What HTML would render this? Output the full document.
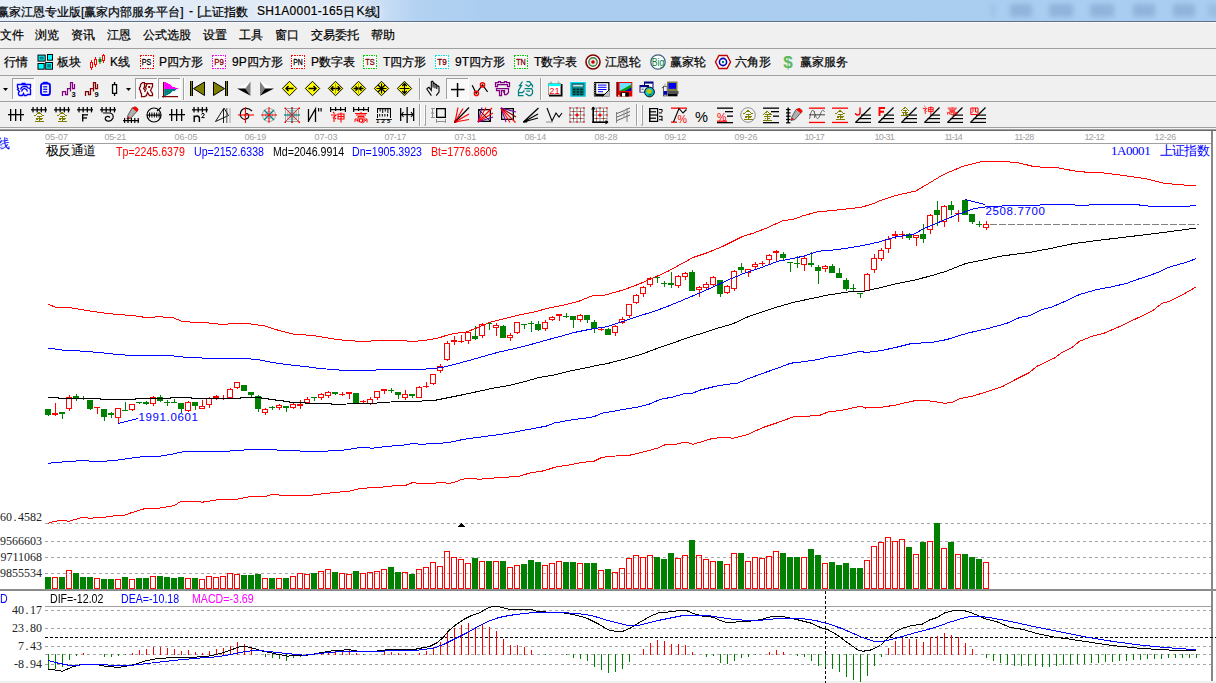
<!DOCTYPE html>
<html lang="zh"><head><meta charset="utf-8"><title>赢家江恩专业版</title>
<style>
html,body{margin:0;padding:0}
body{width:1216px;height:683px;overflow:hidden;background:#f0f0f0;font-family:"Liberation Sans",sans-serif;position:relative;color:#000}
#title{position:absolute;left:0;top:0;width:1216px;height:21px;background:linear-gradient(to right,#e6eef8 0,#dde8f6 350px,#c8ddf4 385px,#b4d2f2 415px,#abcef0 480px,#a9cdf0 100%);overflow:hidden}
#title .cap{position:absolute;top:4px;-webkit-text-stroke:.22px #000;font-size:12px;line-height:15px;white-space:pre;color:#000;text-shadow:0 0 6px #fff,0 0 6px #fff}
#title .blob{position:absolute;top:4px;height:13px;background:#8aaed6;filter:blur(2.6px);opacity:.8;border-radius:3px}
#tline{position:absolute;left:0;top:21px;width:1216px;height:1px;background:#5f6f86}
.bar{position:absolute;left:0;width:1216px;background:#f0f0f0;border-bottom:1px solid #a0a0a0;box-shadow:0 1px 0 #fff}
#menu{top:22px;height:25px;border-top:1px solid #fafafa}
#tb1{top:49px;height:26px}
#tb2{top:76px;height:25px}
#tb3{top:102px;height:25px;border-bottom:none;box-shadow:none}
#edge{position:absolute;left:0;top:127px;width:1216px;height:4px;background:linear-gradient(#a0a0a0 0,#a0a0a0 25%,#f4f4f4 25%,#f4f4f4 50%,#a0a0a0 50%,#a0a0a0 75%,#696969 75%)}
.mi{position:absolute;top:6px;font-size:12px;line-height:14px;white-space:nowrap}
.tl{position:absolute;top:6px;font-size:12px;line-height:14px;white-space:nowrap}
.ic{position:absolute}
#chart,#labels{position:absolute;left:0;top:0}
.t{position:absolute;white-space:nowrap;line-height:14px;font-size:12px}
.date{font-size:9px;color:#a0a0a0;line-height:10px}
.cn{font-family:"Liberation Serif","Liberation Sans",serif}
.ar{font-size:12px;transform:scaleX(.885);transform-origin:0 0}
.num{font-family:"Liberation Sans",sans-serif;font-size:11.5px;letter-spacing:.62px}
.mono{font-family:"Liberation Serif",serif;font-size:12px;color:#222}
.dot{display:inline-block;width:6px;text-align:center;font-weight:normal}
.blue{color:#0000ff} .red{color:#ff0000}
</style></head><body>
<div id="title"><span class="cap" style="left:189px">-</span><span class="cap" style="left:197.2px">[</span><span class="cap" style="left:256.9px;letter-spacing:.34px">SH1A0001-165</span><span class="cap" style="left:356.4px">K</span><span class="cap" style="left:376.4px">]</span>
<i class="blob" style="left:1010px;width:22px"></i><i class="blob" style="left:1049px;width:24px"></i><i class="blob" style="left:1090px;width:24px"></i><i class="blob" style="left:1133px;width:22px"></i><i class="blob" style="left:1173px;width:22px"></i><i class="blob" style="left:991px;width:4px;opacity:.4"></i><i class="blob" style="left:1208px;width:12px;opacity:.5"></i></div>
<div id="tline"></div>
<div class="bar" id="menu"></div>
<div class="bar" id="tb1"><svg class="ic" width="1216" height="26" style="left:0;top:0"><g transform="translate(37,5)"><rect x="0.5" y="0.6" width="8.2" height="7" fill="#000"/><rect x="1.5" y="1.6" width="6.2" height="5" fill="#0ff"/><rect x="2.5" y="2.6" width="4.2" height="3" fill="#008080"/><rect x="10" y="0" width="6" height="6.7" fill="#000"/><rect x="11" y="1" width="4" height="4.7" fill="#0ff"/><rect x="0.5" y="9" width="7.2" height="6.7" fill="#000"/><rect x="1.5" y="10" width="5.2" height="4.7" fill="#0ff"/><rect x="8.2" y="8" width="7.8" height="7.7" fill="#000"/><rect x="9.2" y="9" width="5.8" height="5.7" fill="#0ff"/><rect x="10.2" y="10" width="3.8" height="3.7" fill="#008080"/></g><g transform="translate(89,5)"><rect x="2" y="6" width="1" height="10" fill="#f00"/><rect x="1.5" y="8.5" width="2" height="5" fill="#fff" stroke="#f00" stroke-width="1"/><rect x="6" y="3" width="1" height="10" fill="#f00"/><rect x="5.5" y="5.5" width="2" height="5" fill="#fff" stroke="#f00" stroke-width="1"/><rect x="10.5" y="3" width="1" height="7" fill="#008000"/><rect x="10.0" y="5.5" width="2" height="2" fill="#008000" stroke="#008000" stroke-width="1"/><rect x="14" y="0" width="1" height="9" fill="#f00"/><rect x="13.5" y="1.5" width="2" height="5" fill="#fff" stroke="#f00" stroke-width="1"/></g><g transform="translate(139.5,6)"><rect x="0.5" y="0.5" width="13" height="12.5" fill="#fff" stroke="#f00" stroke-width="1" stroke-dasharray="1.5 1" shape-rendering="crispEdges"/><text x="7" y="10.2" font-size="8.5" fill="#000" font-family="Liberation Sans, sans-serif" text-anchor="middle" textLength="9.5" lengthAdjust="spacingAndGlyphs" stroke="#000" stroke-width="0.3">PS</text></g><g transform="translate(212,6)"><rect x="0.5" y="0.5" width="13" height="12.5" fill="#fff" stroke="#f0f" stroke-width="1" stroke-dasharray="1.5 1" shape-rendering="crispEdges"/><text x="7" y="10.2" font-size="8.5" fill="#800000" font-family="Liberation Sans, sans-serif" text-anchor="middle" textLength="9.5" lengthAdjust="spacingAndGlyphs" stroke="#800000" stroke-width="0.3">P9</text></g><g transform="translate(291,6)"><rect x="0.5" y="0.5" width="13" height="12.5" fill="#fff" stroke="#f00" stroke-width="1" stroke-dasharray="1.5 1" shape-rendering="crispEdges"/><text x="7" y="10.2" font-size="8.5" fill="#000" font-family="Liberation Sans, sans-serif" text-anchor="middle" textLength="9.5" lengthAdjust="spacingAndGlyphs" stroke="#000" stroke-width="0.3">PN</text></g><g transform="translate(363,6)"><rect x="0.5" y="0.5" width="13" height="12.5" fill="#fff" stroke="#00d000" stroke-width="1" stroke-dasharray="1.5 1" shape-rendering="crispEdges"/><text x="7" y="10.2" font-size="8.5" fill="#800000" font-family="Liberation Sans, sans-serif" text-anchor="middle" textLength="9.5" lengthAdjust="spacingAndGlyphs" stroke="#800000" stroke-width="0.3">TS</text></g><g transform="translate(435,6)"><rect x="0.5" y="0.5" width="13" height="12.5" fill="#fff" stroke="#00e8e8" stroke-width="1" stroke-dasharray="1.5 1" shape-rendering="crispEdges"/><text x="7" y="10.2" font-size="8.5" fill="#800000" font-family="Liberation Sans, sans-serif" text-anchor="middle" textLength="9.5" lengthAdjust="spacingAndGlyphs" stroke="#800000" stroke-width="0.3">T9</text></g><g transform="translate(514,6)"><rect x="0.5" y="0.5" width="13" height="12.5" fill="#fff" stroke="#00d000" stroke-width="1" stroke-dasharray="1.5 1" shape-rendering="crispEdges"/><text x="7" y="10.2" font-size="8.5" fill="#800000" font-family="Liberation Sans, sans-serif" text-anchor="middle" textLength="9.5" lengthAdjust="spacingAndGlyphs" stroke="#800000" stroke-width="0.3">TN</text></g><g transform="translate(585,5)"><circle cx="8" cy="8" r="7" fill="#fff" stroke="#800000" stroke-width="1.6"/><circle cx="8" cy="8" r="4.2" fill="#e8e8e8" stroke="#408040" stroke-width="1.4"/><circle cx="8" cy="8" r="1.8" fill="#d00000"/></g><g transform="translate(650,5)"><circle cx="8" cy="8" r="7.2" fill="#fff" stroke="#406080" stroke-width="1.3"/><text x="8" y="11.5" font-size="10" fill="#008040" font-family="Liberation Sans, sans-serif" text-anchor="middle" textLength="12.5" lengthAdjust="spacingAndGlyphs">Big</text></g><g transform="translate(715,5)"><path d="M4 1.5 L12 1.5 L15.5 8 L12 14.5 L4 14.5 L0.5 8 Z" fill="#fff" stroke="#c00000" stroke-width="1.4"/><circle cx="8" cy="8" r="3.6" fill="#fff" stroke="#0000c0" stroke-width="1.6"/><circle cx="8" cy="8" r="1.2" fill="#008080"/></g><g transform="translate(781,4)"><text x="7" y="15" font-size="17" fill="#5cb85c" font-family="Liberation Sans, sans-serif" text-anchor="middle" font-weight="bold">$</text></g></svg></div>
<div class="bar" id="tb2"><svg class="ic" width="1216" height="26" style="left:0;top:0"><path d="M3 12 h5 l-2.5 3 Z" fill="#000"/><rect x="12" y="2" width="23" height="22" fill="#f9f9f9"/><rect x="12" y="2" width="23" height="1" fill="#a0a0a0"/><rect x="12" y="2" width="1" height="22" fill="#a0a0a0"/><rect x="34" y="2" width="1" height="22" fill="#fff"/><rect x="12" y="23" width="23" height="1" fill="#fff"/><g transform="translate(16,5)"><path d="M5.5 2.5 H9.5 M1.5 3.5 H14.5 V6.5 L13.5 7.5 L14.5 8.5 V13.5 H11.5 L10.5 14.5 H8.5 L7.5 12.5 L6.5 14.5 H3.5 L2.5 13.5 V11.5 L3.5 10.5 L1.5 8.5 L2.5 7.5 L1.5 6.5 Z M4.5 8.5 L5.5 6.5 L7.5 5.5 H10.5 L12.5 7.5 M5.5 10.5 L6.5 8.5 L8.5 7.5 L10.5 8.5 L11.5 10.5" stroke="#00f" fill="none" stroke-width="1.35" /></g><g transform="translate(39,5)"><rect x="2" y="2.5" width="9" height="11.5" rx="2.2" fill="none" stroke="#00f" stroke-width="1.8"/><rect x="4.2" y="0.8" width="4.6" height="2" fill="#00f"/><rect x="4.2" y="5.2" width="4" height="1.2" fill="#00f"/><rect x="4.2" y="7.7" width="4" height="1.2" fill="#00f"/><rect x="4.2" y="10.2" width="4" height="1.2" fill="#00f"/></g><g transform="translate(62,5)"><path d="M0.5 15 V10.5 H3.5 V13.5 H5.5 V7.5 H8.5 V10.5 M8.5 10 V1.5 H10.5 V7.5 H12.5 V3" stroke="#800080" fill="none" stroke-width="1.25" /><text x="9.6" y="16.2" font-size="7.5" fill="#000" font-family="Liberation Sans, sans-serif" font-weight="bold">3</text></g><g transform="translate(85,5)"><path d="M0.5 15 V10.5 H3.5 V13.5 H5.5 V7.5 H8.5 V10.5 M8.5 10 V1.5 H10.5 V7.5 H12.5 V3" stroke="#800000" fill="none" stroke-width="1.25" /><text x="9.6" y="16.2" font-size="7.5" fill="#000" font-family="Liberation Sans, sans-serif" font-weight="bold">9</text></g><g transform="translate(108,5)"><rect x="5.9" y="1" width="1.3" height="14" fill="#000"/><rect x="4.55" y="3.65" width="4.0" height="8.7" fill="#fff" stroke="#000" stroke-width="1.3"/></g><path d="M126 12 h5 l-2.5 3 Z" fill="#000"/><rect x="135" y="2" width="23" height="22" fill="#f9f9f9"/><rect x="135" y="2" width="23" height="1" fill="#a0a0a0"/><rect x="135" y="2" width="1" height="22" fill="#a0a0a0"/><rect x="157" y="2" width="1" height="22" fill="#fff"/><rect x="135" y="23" width="23" height="1" fill="#fff"/><rect x="158" y="2" width="23" height="22" fill="#f9f9f9"/><rect x="158" y="2" width="23" height="1" fill="#a0a0a0"/><rect x="158" y="2" width="1" height="22" fill="#a0a0a0"/><rect x="180" y="2" width="1" height="22" fill="#fff"/><rect x="158" y="23" width="23" height="1" fill="#fff"/><g transform="translate(139,5)"><path d="M3.5 1.5 H5.5 V2.5 H13.5 V5.5 L12.5 7.5 L11.5 9.5 L13.5 12.5 V14.5 H10.5 L8.5 11.5 L7.5 14.5 L5.5 15.5 H2.5 V12.5 L1.5 11.5 V9.5 L0.5 8.5 V6.5 L1.5 5.5 V3.5 Z M5.5 3 V6 L4.5 7.5 L6.5 9.5 L5.5 11 M8 3 L6.5 6.5 L7.5 8.5" stroke="#800000" fill="none" stroke-width="1.25" /><rect x="9.2" y="5" width="2" height="2" fill="#800000"/></g><g transform="translate(162,5)"><rect x="1" y="1" width="1.2" height="15.5" fill="#800000"/><rect x="0" y="15" width="16" height="1.2" fill="#800000"/><rect x="2.2" y="1" width="2" height="1.05" fill="#f0f"/><rect x="2.2" y="2" width="4" height="1.05" fill="#f0f"/><rect x="2.2" y="3" width="6" height="1.05" fill="#f0f"/><rect x="2.2" y="4" width="7" height="1.05" fill="#f0f"/><rect x="2.2" y="5" width="8" height="1.05" fill="#f0f"/><rect x="2.2" y="6" width="11" height="1.05" fill="#f0f"/><rect x="2.2" y="7" width="14" height="1.05" fill="#f0f"/><rect x="2.2" y="8" width="12" height="1.05" fill="#008080"/><rect x="2.2" y="9" width="11" height="1.05" fill="#008080"/><rect x="2.2" y="10" width="8" height="1.05" fill="#008080"/><rect x="2.2" y="11" width="7" height="1.05" fill="#008080"/><rect x="2.2" y="12" width="6" height="1.05" fill="#008080"/><rect x="2.2" y="13" width="4" height="1.05" fill="#008080"/><rect x="2.2" y="14" width="2" height="1.05" fill="#008080"/></g><rect x="183" y="2" width="1" height="22" fill="#a0a0a0"/><rect x="184" y="2" width="1" height="22" fill="#fff"/><g transform="translate(190,5)"><rect x="0" y="0" width="1" height="15" fill="#000"/><rect x="1" y="0" width="1" height="15" fill="#808000"/><rect x="2" y="0" width="1" height="15" fill="#000"/><path d="M14.5 1 V14.5 L3.5 7.6 Z" fill="#808000" stroke="#000" stroke-width="1"/></g><g transform="translate(213,5)"><rect x="12" y="0" width="1" height="15" fill="#000"/><rect x="13" y="0" width="1" height="15" fill="#808000"/><rect x="14" y="0" width="1" height="15" fill="#000"/><path d="M0.5 1 V14.5 L11.5 7.6 Z" fill="#808000" stroke="#000" stroke-width="1"/></g><g transform="translate(236,5)"><path d="M1 7.6 L14.5 0.6 L9.3 7.6 Z" fill="#fff"/><path d="M14.5 0.6 L14.5 14.8 L9.3 7.6 Z" fill="#808080"/><path d="M1 7.6 L14.5 14.8 L9.3 7.6 Z" fill="#000"/></g><g transform="translate(259,5)"><path d="M15 7.4 L1 0.6 L6.2 7.4 Z" fill="#fff"/><path d="M1 0.6 L1 14.8 L6.2 7.4 Z" fill="#808080"/><path d="M15 7.4 L1 14.8 L6.2 7.4 Z" fill="#000"/></g><g transform="translate(282,5)"><path d="M7.5 0.3 L14.7 7.5 L7.5 14.7 L0.3 7.5 Z" fill="#ff0" stroke="#000" stroke-width="1"/><path d="M4 7.5 H11.5 M6.5 5 L4 7.5 L6.5 10" stroke="#000" fill="none" stroke-width="1.4" /></g><g transform="translate(305,5)"><path d="M7.5 0.3 L14.7 7.5 L7.5 14.7 L0.3 7.5 Z" fill="#ff0" stroke="#000" stroke-width="1"/><path d="M3.5 7.5 H11 M8.5 5 L11 7.5 L8.5 10" stroke="#000" fill="none" stroke-width="1.4" /></g><g transform="translate(328,5)"><path d="M7.5 0.3 L14.7 7.5 L7.5 14.7 L0.3 7.5 Z" fill="#ff0" stroke="#000" stroke-width="1"/><path d="M3 7.5 H12 M5.3 5.3 L3 7.5 L5.3 9.7 M9.7 5.3 L12 7.5 L9.7 9.7" stroke="#000" fill="none" stroke-width="1.3" /><line x1="7.5" y1="2.5" x2="7.5" y2="12.5" stroke="#808000" stroke-width="0.7"/></g><g transform="translate(351,5)"><path d="M7.5 0.3 L14.7 7.5 L7.5 14.7 L0.3 7.5 Z" fill="#ff0" stroke="#000" stroke-width="1"/><path d="M2.5 7.5 H12.5 M4.5 5.2 L6.8 7.5 L4.5 9.8 M10.5 5.2 L8.2 7.5 L10.5 9.8" stroke="#000" fill="none" stroke-width="1.3" /><line x1="7.5" y1="2.5" x2="7.5" y2="12.5" stroke="#808000" stroke-width="0.7"/></g><g transform="translate(374,5)"><path d="M7.5 0.3 L14.7 7.5 L7.5 14.7 L0.3 7.5 Z" fill="#ff0" stroke="#000" stroke-width="1"/><path d="M2.5 7.5 H12.5 M7.5 2.5 V12.5 M4 4 L11 11 M11 4 L4 11" stroke="#000" fill="none" stroke-width="1.2" /></g><g transform="translate(397,5)"><path d="M7.5 0.3 L14.7 7.5 L7.5 14.7 L0.3 7.5 Z" fill="#ff0" stroke="#000" stroke-width="1"/><path d="M7.5 2.5 V12.5 M5.2 5 L7.5 2.5 L9.8 5 M5.2 10 L7.5 12.5 L9.8 10 M2.5 7.5 H12.5" stroke="#000" fill="none" stroke-width="1.2" /></g><rect x="419" y="2" width="1" height="22" fill="#a0a0a0"/><rect x="420" y="2" width="1" height="22" fill="#fff"/><g transform="translate(426,5)"><path d="M0.6 7.8 L3 6.3 L5.3 9.4 V0.8 L6.2 0.2 L7.1 0.8 V6.6 M7.1 2.2 L8.2 2 L9 3 V7.2 M9 3.5 L10 3.3 L10.8 4.3 V8 M10.8 5 L12 4.8 L13 5.8 V11 L10.2 14.6 M0.6 7.8 L5.4 14.6" stroke="#000" fill="none" stroke-width="1.1" /></g><rect x="446" y="2" width="23" height="22" fill="#f9f9f9"/><rect x="446" y="2" width="23" height="1" fill="#a0a0a0"/><rect x="446" y="2" width="1" height="22" fill="#a0a0a0"/><rect x="468" y="2" width="1" height="22" fill="#fff"/><rect x="446" y="23" width="23" height="1" fill="#fff"/><g transform="translate(449,5)"><rect x="7.8" y="2" width="1.5" height="14" fill="#000"/><rect x="2" y="7.8" width="13.5" height="1.5" fill="#000"/></g><g transform="translate(472,5)"><path d="M0.2 4.2 L4.2 12.3 L10.5 4 L15.6 10.8" stroke="#000" fill="none" stroke-width="1.2" /><circle cx="4.4" cy="12.4" r="2.1" fill="none" stroke="#f00" stroke-width="1.4"/><circle cx="10.5" cy="3.9" r="2.1" fill="none" stroke="#f00" stroke-width="1.4"/></g><g transform="translate(495,5)"><path d="M0.5 1.5 H3.5 V0.5 H5.5 V1.5 H9.5 V0.5 H11.5 V1.5 H14.5 V5.5 H12.5 V3.5 H2.5 V5.5 H0.5 Z M1.5 7.5 H13.5 V11.5 L11.5 13.5 H9.5 V9.5 H6.5 V14.5 H4.5 V9.5 H1.5 Z M8 11.2 H9.2" stroke="#800080" fill="none" stroke-width="1.25" /></g><g transform="translate(518,5)"><path d="M4.5 0.5 L1.5 4.5 H3.5 L0.5 9.5 V14.5 H5.5 M0.5 11.5 H4.5 L6.5 9.5 M8.5 0.5 H11.5 L14.5 4.5 V6.5 M7.5 3.5 L10.5 5.5 L13.5 3 M6.5 7.5 H13.5 L14.5 9.5 V12.5 L12.5 14.5 H10.5 L7.5 12.5 M8.5 10 H12" stroke="#008080" fill="none" stroke-width="1.25" /></g><rect x="540" y="2" width="1" height="22" fill="#a0a0a0"/><rect x="541" y="2" width="1" height="22" fill="#fff"/><g transform="translate(547,5)"><rect x="2" y="3" width="13.5" height="12.5" fill="#000"/><rect x="1" y="2" width="13" height="12" fill="#fff"/><rect x="1.4" y="2.4" width="12.2" height="11.2" fill="none" stroke="#808080" stroke-width="0.8"/><rect x="1.5" y="2.5" width="12" height="2.6" fill="#0ff"/><path d="M3 2.5 L4 0.5 L5 2.5 Z M10.5 2.5 L11.5 0.5 L12.5 2.5 Z" fill="#fff" stroke="#808080" stroke-width="0.6"/><text x="7.5" y="13" font-size="8.8" fill="#f00" font-family="Liberation Sans, sans-serif" text-anchor="middle" textLength="10.5" lengthAdjust="spacingAndGlyphs">21</text></g><g transform="translate(570,5)"><rect x="0.5" y="1" width="15" height="14.5" fill="#008080"/><rect x="1.0" y="1.5" width="14" height="13.5" fill="none" stroke="#00e0ff" stroke-width="1"/><rect x="2.5" y="3" width="11" height="3.2" fill="#b0f0ff"/><rect x="2.8" y="3.3" width="10.4" height="2.6" fill="none" stroke="#003838" stroke-width="0.6"/><rect x="3.0" y="7.7" width="2.5" height="1.6" fill="#002828"/><rect x="6.6" y="7.7" width="2.5" height="1.6" fill="#002828"/><rect x="10.2" y="7.7" width="2.5" height="1.6" fill="#002828"/><rect x="3.0" y="10.2" width="2.5" height="1.6" fill="#002828"/><rect x="6.6" y="10.2" width="2.5" height="1.6" fill="#002828"/><rect x="10.2" y="10.2" width="2.5" height="1.6" fill="#002828"/><rect x="3.0" y="12.7" width="2.5" height="1.6" fill="#002828"/><rect x="6.6" y="12.7" width="2.5" height="1.6" fill="#002828"/><rect x="10.2" y="12.7" width="2.5" height="1.6" fill="#002828"/></g><g transform="translate(593,5)"><rect x="1" y="1" width="15.5" height="14.5" fill="#000"/><rect x="3.2" y="2.2" width="12" height="10.6" fill="#fff"/><rect x="5" y="3.6" width="8.5" height="1" fill="#00f"/><rect x="5" y="5.800000000000001" width="8.5" height="1" fill="#00f"/><rect x="5" y="8.0" width="8.5" height="1" fill="#00f"/><rect x="5" y="10.200000000000001" width="5.0" height="1" fill="#00f"/><rect x="0.3" y="2.0" width="2.2" height="1" fill="#a0a0a0"/><rect x="0.3" y="4.3" width="2.2" height="1" fill="#a0a0a0"/><rect x="0.3" y="6.6" width="2.2" height="1" fill="#a0a0a0"/><rect x="0.3" y="8.899999999999999" width="2.2" height="1" fill="#a0a0a0"/><rect x="0.3" y="11.2" width="2.2" height="1" fill="#a0a0a0"/><rect x="0.3" y="13.5" width="2.2" height="1" fill="#a0a0a0"/><path d="M9.5 15.5 L16.5 8.5 V15.5 Z" fill="#c0c0c0"/><path d="M9.5 15.5 L16.5 8.5" stroke="#000" stroke-width="1"/></g><g transform="translate(616,5)"><rect x="0.5" y="1" width="15.8" height="14.5" fill="#f00000"/><rect x="0.5" y="1" width="1.6" height="14.5" fill="#800000"/><rect x="3.5" y="2" width="11.8" height="8" fill="#70e0ff"/><path d="M3.5 10 L15.3 3.5 V10 Z" fill="#00a000"/><path d="M9 10 L15.3 6.5 V10 Z" fill="#0000c0"/><rect x="4.5" y="11.3" width="8.5" height="4.2" fill="#000"/><rect x="6" y="12" width="3.2" height="3.5" fill="#fff"/><rect x="2.2" y="14" width="1.2" height="1.2" fill="#fff"/></g><g transform="translate(639,5)"><rect x="5" y="0.5" width="9.5" height="7" fill="#000080"/><rect x="6" y="2.6" width="7.5" height="4.2" fill="#fff"/><rect x="0.5" y="4" width="9.5" height="7.5" fill="#000080"/><rect x="1.5" y="6.2" width="7.5" height="4.6" fill="#fff"/><rect x="2.5" y="7.5" width="2.2" height="1.6" fill="#808080"/><rect x="6" y="7.5" width="1.5" height="1.2" fill="#808080"/><circle cx="10.5" cy="11" r="4.9" fill="#00b0d0" stroke="#000" stroke-width="0.9"/><path d="M7.2 9.6 L10.2 7.6 L13.2 9.8 L11.6 13 L8.8 12.6 Z" fill="#c8c800"/><path d="M9.5 14.5 L11.2 12.2 L12.6 14.2 Z" fill="#008000"/><path d="M6.5 12 L8 11 L8.5 13.5 Z" fill="#00ffff"/></g><g transform="translate(662,5)"><rect x="5" y="0.5" width="10.5" height="9.5" fill="#808040"/><rect x="6.5" y="2" width="7.5" height="5.8" fill="#0000f0"/><rect x="4" y="10" width="12.5" height="3" fill="#505050"/><rect x="6" y="13" width="9.5" height="2.3" fill="#000"/><rect x="1" y="5" width="4.6" height="10.3" fill="#f0f0f0"/><rect x="1.4" y="5.4" width="3.8" height="9.5" fill="none" stroke="#404040" stroke-width="0.8"/><rect x="1.6" y="10" width="3.4" height="3.8" fill="#0000c0"/><rect x="2" y="2.8" width="2.2" height="2.4" fill="#c0c0c0"/><rect x="0.2" y="6" width="1.2" height="1.2" fill="#404040"/></g></svg></div>
<div class="bar" id="tb3"><svg class="ic" width="1216" height="26" style="left:0;top:0"><g transform="translate(8,5)"><rect x="2" y="2" width="1.3" height="12" fill="#000"/><rect x="7" y="2" width="1.3" height="12" fill="#000"/><rect x="12" y="2" width="1.3" height="12" fill="#000"/><rect x="0" y="7" width="16" height="1.3" fill="#000"/></g><g transform="translate(31,5)"><rect x="0" y="2.2" width="16" height="1.25" fill="#000"/><rect x="1.4" y="0" width="1.25" height="5.4" fill="#000"/><rect x="5.550000000000001" y="0" width="1.25" height="5.4" fill="#000"/><rect x="9.700000000000001" y="0" width="1.25" height="5.4" fill="#000"/><rect x="13.850000000000001" y="0" width="1.25" height="5.4" fill="#000"/><path d="M8.0 5.5 L3.5 9.0 M8.0 5.5 L12.5 9.0 M5.5 9.0 H10.5 M4.5 11.0 H11.5 M8.0 9.0 V14.0 M5.8 12.0 L6.5 13.5 M10.2 12.0 L9.5 13.5 M3.5 14.5 H12.5" stroke="#808000" fill="none" stroke-width="1" shape-rendering="crispEdges"/></g><g transform="translate(54,5)"><rect x="0" y="2.2" width="16" height="1.25" fill="#000"/><rect x="1.4" y="0" width="1.25" height="5.4" fill="#000"/><rect x="5.550000000000001" y="0" width="1.25" height="5.4" fill="#000"/><rect x="9.700000000000001" y="0" width="1.25" height="5.4" fill="#000"/><rect x="13.850000000000001" y="0" width="1.25" height="5.4" fill="#000"/><path d="M8.0 5.5 L3.5 9.0 M8.0 5.5 L12.5 9.0 M5.5 9.0 H10.5 M4.5 11.0 H11.5 M8.0 9.0 V14.0 M5.8 12.0 L6.5 13.5 M10.2 12.0 L9.5 13.5 M3.5 14.5 H12.5" stroke="#808000" fill="none" stroke-width="1" shape-rendering="crispEdges"/></g><g transform="translate(77,5)"><rect x="0" y="2.2" width="16" height="1.25" fill="#000"/><rect x="1.4" y="0" width="1.25" height="5.4" fill="#000"/><rect x="5.550000000000001" y="0" width="1.25" height="5.4" fill="#000"/><rect x="9.700000000000001" y="0" width="1.25" height="5.4" fill="#000"/><rect x="13.850000000000001" y="0" width="1.25" height="5.4" fill="#000"/><rect x="5" y="7.2" width="1.4" height="7.3" fill="#000"/><rect x="5" y="7.2" width="6" height="1.3" fill="#000"/><rect x="5" y="10.3" width="5" height="1.3" fill="#000"/></g><g transform="translate(100,5)"><rect x="0" y="2.2" width="16" height="1.25" fill="#000"/><rect x="1.4" y="0" width="1.25" height="5.4" fill="#000"/><rect x="5.550000000000001" y="0" width="1.25" height="5.4" fill="#000"/><rect x="9.700000000000001" y="0" width="1.25" height="5.4" fill="#000"/><rect x="13.850000000000001" y="0" width="1.25" height="5.4" fill="#000"/><path d="M3 6 H10 Q14 7 13 11 Q11 15 7 14 Q4 12 6 10 Q8 8.5 10 10.5" stroke="#000" fill="none" stroke-width="1.2" /></g><g transform="translate(123,5)"><path d="M9 1 L13 0 L15 3 L8 11 L4 12 L5 8 Z" fill="#b0b0b0" stroke="#404040" stroke-width="0.8"/><path d="M9 1 L12 -0.5 L15.5 2 L14 5 Z" fill="#f00"/><path d="M4 12 L5 9 L7 11 Z" fill="#f00"/><rect x="0" y="13" width="16" height="1.2" fill="#000"/><rect x="1.0" y="11" width="1.2" height="5" fill="#000"/><rect x="4.4" y="11" width="1.2" height="5" fill="#000"/><rect x="7.8" y="11" width="1.2" height="5" fill="#000"/><rect x="11.2" y="11" width="1.2" height="5" fill="#000"/><rect x="14.6" y="11" width="1.2" height="5" fill="#000"/></g><g transform="translate(146,5)"><circle cx="8" cy="8" r="7" fill="none" stroke="#000" stroke-width="1.2"/><rect x="1" y="7.5" width="14" height="1.2" fill="#000"/><rect x="3.0" y="5.5" width="1" height="5" fill="#000"/><rect x="5.4" y="5.5" width="1" height="5" fill="#000"/><rect x="7.8" y="5.5" width="1" height="5" fill="#000"/><rect x="10.2" y="5.5" width="1" height="5" fill="#000"/><rect x="12.6" y="5.5" width="1" height="5" fill="#000"/><line x1="11" y1="4" x2="15" y2="0.5" stroke="#000" stroke-width="1.1"/></g><g transform="translate(169,5)"><rect x="2" y="2" width="1.3" height="12" fill="#000"/><rect x="7" y="2" width="1.3" height="12" fill="#000"/><rect x="12" y="2" width="1.3" height="12" fill="#000"/><rect x="0" y="7" width="16" height="1.3" fill="#000"/></g><g transform="translate(192,5)"><rect x="0" y="2.2" width="16" height="1.25" fill="#000"/><rect x="1.4" y="0" width="1.25" height="5.4" fill="#000"/><rect x="5.550000000000001" y="0" width="1.25" height="5.4" fill="#000"/><rect x="9.700000000000001" y="0" width="1.25" height="5.4" fill="#000"/><rect x="13.850000000000001" y="0" width="1.25" height="5.4" fill="#000"/><path d="M2.2 15 V8.6 M2.2 10.8 Q2.6 9 5 9 Q7.4 9 7.4 11.2 V15" stroke="#000" fill="none" stroke-width="1.4" /><path d="M9.6 7.6 Q9.8 6.4 11 6.4 Q12.4 6.5 12.2 7.8 Q12 8.8 9.6 10.6 H12.6" stroke="#000" fill="none" stroke-width="1" /></g><g transform="translate(215,5)"><path d="M0.5 14.5 L9 1 L13.5 8.5 Z" stroke="#000" fill="none" stroke-width="0.9" /><line x1="8.5" y1="2" x2="8.5" y2="16" stroke="#000" stroke-width="0.9"/><line x1="11.8" y1="1" x2="11.8" y2="16" stroke="#404040" stroke-width="0.9"/><line x1="15" y1="1" x2="15" y2="16" stroke="#a0a0a0" stroke-width="0.9"/></g><g transform="translate(238,5)"><path d="M14 4 Q10 0 5 2 Q1 5 3 10 Q6 14 10 11 Q12 8 9 6.5 Q6 7 7.5 9.5" stroke="#000" fill="none" stroke-width="1.2" /><line x1="0" y1="8" x2="16" y2="8" stroke="#f00" stroke-width="1.1"/><line x1="7.5" y1="0" x2="7.5" y2="16" stroke="#f00" stroke-width="1.1"/></g><g transform="translate(261,5)"><circle cx="8" cy="8" r="6.5" fill="none" stroke="#909090" stroke-width="0.8"/><circle cx="8" cy="8" r="3.5" fill="none" stroke="#909090" stroke-width="0.8"/><line x1="0" y1="8" x2="16" y2="8" stroke="#f00" stroke-width="1"/><line x1="8" y1="0" x2="8" y2="16" stroke="#f00" stroke-width="1"/><line x1="3" y1="3" x2="13" y2="13" stroke="#008080" stroke-width="1.2"/><line x1="13" y1="3" x2="3" y2="13" stroke="#008080" stroke-width="1.2"/><rect x="7" y="7" width="2" height="2" fill="#f00"/></g><g transform="translate(284,5)"><rect x="1.4" y="1.4" width="13.2" height="13.2" fill="none" stroke="#909090" stroke-width="0.8"/><rect x="3.9" y="3.9" width="8.2" height="8.2" fill="none" stroke="#909090" stroke-width="0.8"/><rect x="5.9" y="5.9" width="4.2" height="4.2" fill="none" stroke="#c06060" stroke-width="0.8"/><line x1="0" y1="8" x2="16" y2="8" stroke="#008080" stroke-width="1.2"/><line x1="8" y1="0" x2="8" y2="16" stroke="#008080" stroke-width="1.2"/><line x1="1" y1="1" x2="15" y2="15" stroke="#f00" stroke-width="0.8"/><line x1="15" y1="1" x2="1" y2="15" stroke="#f00" stroke-width="0.8"/><rect x="0.5" y="0.5" width="1.5" height="1.5" fill="#f00"/><rect x="14.5" y="0.5" width="1.5" height="1.5" fill="#f00"/><rect x="0.5" y="14.5" width="1.5" height="1.5" fill="#f00"/><rect x="14.5" y="14.5" width="1.5" height="1.5" fill="#f00"/><rect x="7.5" y="0.5" width="1.5" height="1.5" fill="#f00"/><rect x="7.5" y="14.5" width="1.5" height="1.5" fill="#f00"/></g><g transform="translate(307,5)"><path d="M1.5 15 V2 M1.5 14 L8.5 2 V15" stroke="#000" fill="none" stroke-width="1.3" /><rect x="11" y="1" width="1.2" height="3.5" fill="#000"/><rect x="13.5" y="1" width="1.2" height="3.5" fill="#000"/></g><g transform="translate(330,5)"><rect x="0" y="2" width="16" height="1.2" fill="#000"/><rect x="0" y="0" width="1.2" height="5" fill="#000"/><rect x="14.8" y="0" width="1.2" height="5" fill="#000"/><rect x="5" y="0" width="1.2" height="4" fill="#000"/><rect x="10" y="0" width="1.2" height="4" fill="#000"/><path d="M3 5 L4.5 6.5 M1 8 H6 L3 11 M4 9.5 V15 M5 11 L6 12 M8 7 H14 V12 H8 Z M8 9.5 H14 M11 5.5 V15.5" stroke="#f00" fill="none" stroke-width="1.1" /></g><g transform="translate(353,5)"><rect x="0" y="2" width="16" height="1.2" fill="#000"/><rect x="0" y="0" width="1.2" height="5" fill="#000"/><rect x="14.8" y="0" width="1.2" height="5" fill="#000"/><rect x="5" y="0" width="1.2" height="4" fill="#000"/><rect x="10" y="0" width="1.2" height="4" fill="#000"/><path d="M8 5 V6 M2 6.5 H14 M3 8 H13 M5 9.5 H11 V11 H5 Z M2 12 V15 M2 12 H5 V15 M3.5 13.5 H5 M6.5 12 H9.5 V15 H6.5 Z M8 15 L9.5 16 M11 12 H14 V15.5 M11 12 V15 L10.5 16 M12.5 13 V14" stroke="#f00" fill="none" stroke-width="1" /></g><g transform="translate(376,5)"><rect x="1" y="1" width="14" height="1.2" fill="#000"/><rect x="1.0" y="1" width="1" height="5" fill="#000"/><rect x="3.6" y="1" width="1" height="3.5" fill="#000"/><rect x="6.2" y="1" width="1" height="5" fill="#000"/><rect x="8.8" y="1" width="1" height="3.5" fill="#000"/><rect x="11.4" y="1" width="1" height="5" fill="#000"/><rect x="14.0" y="1" width="1" height="3.5" fill="#000"/><rect x="1" y="7" width="1" height="4" fill="#000"/><rect x="14" y="1" width="1" height="10" fill="#000"/><rect x="3.2" y="7" width="1" height="2.5" fill="#000"/><rect x="5.800000000000001" y="7" width="1" height="2.5" fill="#000"/><rect x="8.4" y="7" width="1" height="2.5" fill="#000"/><rect x="11.0" y="7" width="1" height="2.5" fill="#000"/><text x="0" y="16" font-size="6" fill="#000" font-family="Liberation Sans, sans-serif" font-weight="bold">1</text><text x="5.5" y="16" font-size="6" fill="#000" font-family="Liberation Sans, sans-serif" font-weight="bold">2</text><text x="11" y="16" font-size="6" fill="#000" font-family="Liberation Sans, sans-serif" font-weight="bold">5</text><rect x="0" y="12" width="16" height="0.8" fill="#000"/></g><g transform="translate(399,5)"><rect x="1" y="1" width="1.3" height="13" fill="#000"/><rect x="14" y="1" width="1.3" height="13" fill="#000"/><rect x="7.5" y="0" width="1.3" height="16" fill="#000"/><rect x="1" y="7" width="14" height="1.2" fill="#000"/><path d="M4.5 5 L2.5 7.6 L4.5 10 M12 5 L14 7.6 L12 10" stroke="#000" fill="none" stroke-width="1.1" /></g><rect x="419" y="2" width="1" height="22" fill="#a0a0a0"/><rect x="420" y="2" width="1" height="22" fill="#fff"/><rect x="424" y="3" width="1" height="20" fill="#fff"/><rect x="425" y="3" width="1" height="20" fill="#a0a0a0"/><rect x="424" y="22.5" width="2" height="1" fill="#a0a0a0"/><g transform="translate(431,5)"><rect x="5.65" y="1.65" width="8.7" height="8.7" fill="none" stroke="#000" stroke-width="1.3"/><line x1="1.5" y1="1" x2="1.5" y2="11" stroke="#909090" stroke-width="1"/><line x1="0" y1="1.5" x2="4" y2="1.5" stroke="#909090" stroke-width="1"/><line x1="0" y1="10.5" x2="4" y2="10.5" stroke="#909090" stroke-width="1"/><line x1="0" y1="6" x2="3" y2="6" stroke="#909090" stroke-width="1"/><line x1="5" y1="14.5" x2="15" y2="14.5" stroke="#909090" stroke-width="1"/><line x1="5.5" y1="12" x2="5.5" y2="16" stroke="#909090" stroke-width="1"/><line x1="14.5" y1="12" x2="14.5" y2="16" stroke="#909090" stroke-width="1"/></g><g transform="translate(454,5)"><line x1="1" y1="15" x2="4" y2="0.5" stroke="#f00" stroke-width="1.2"/><line x1="1" y1="15" x2="9" y2="1.5" stroke="#f00" stroke-width="1.2"/><line x1="1" y1="15" x2="15" y2="0.5" stroke="#000" stroke-width="1.2"/><line x1="1" y1="15" x2="15" y2="7" stroke="#f00" stroke-width="1.2"/><line x1="1" y1="15" x2="15" y2="12.5" stroke="#f00" stroke-width="1.2"/><rect x="0" y="13.5" width="2.5" height="2.5" fill="#c00000"/></g><g transform="translate(477,5)"><rect x="1.65" y="2.65" width="11.7" height="11.7" fill="none" stroke="#000" stroke-width="1.3"/><line x1="1" y1="15" x2="5" y2="0.5" stroke="#8000a0" stroke-width="1.1"/><line x1="1" y1="15" x2="9" y2="0.5" stroke="#f00" stroke-width="1.1"/><line x1="1" y1="15" x2="15" y2="1" stroke="#f00" stroke-width="1.2"/><line x1="1" y1="15" x2="16" y2="6" stroke="#f00" stroke-width="1.1"/><line x1="1" y1="15" x2="16" y2="10" stroke="#8000a0" stroke-width="1.1"/><line x1="1" y1="2" x2="14" y2="15" stroke="#000" stroke-width="0.8"/></g><g transform="translate(500,5)"><rect x="1.65" y="1.65" width="11.7" height="10.7" fill="none" stroke="#000" stroke-width="1.3"/><line x1="1" y1="1" x2="6" y2="15" stroke="#8000a0" stroke-width="1.1"/><line x1="1" y1="1" x2="10" y2="15.5" stroke="#f00" stroke-width="1.1"/><line x1="1" y1="1" x2="15.5" y2="15.5" stroke="#f00" stroke-width="1.2"/><line x1="1" y1="1" x2="16" y2="10" stroke="#800000" stroke-width="1.1"/><line x1="1" y1="1" x2="16" y2="5" stroke="#8000a0" stroke-width="1.1"/></g><g transform="translate(523,5)"><line x1="0.5" y1="15" x2="15.5" y2="1" stroke="#000" stroke-width="1.3"/><line x1="0.5" y1="15" x2="15" y2="7" stroke="#000" stroke-width="1.1"/><line x1="0.5" y1="15" x2="15" y2="11" stroke="#000" stroke-width="1.1"/><path d="M0 15.5 L5 12 L4 15.5 Z" fill="#000"/></g><g transform="translate(546,5)"><path d="M1 1 L6 14 L10 6 L13 10 L16 6" stroke="#000" fill="none" stroke-width="1.1" /><line x1="0" y1="15" x2="7" y2="15" stroke="#909090" stroke-width="1"/></g><g transform="translate(569,5)"><rect x="1" y="1" width="14" height="14" fill="#fff"/><line x1="1.0" y1="1" x2="1.0" y2="15" stroke="#909090" stroke-width="1"/><line x1="1" y1="1.0" x2="15" y2="1.0" stroke="#909090" stroke-width="1"/><line x1="4.5" y1="1" x2="4.5" y2="15" stroke="#909090" stroke-width="1"/><line x1="1" y1="4.5" x2="15" y2="4.5" stroke="#909090" stroke-width="1"/><line x1="8.0" y1="1" x2="8.0" y2="15" stroke="#909090" stroke-width="1"/><line x1="1" y1="8.0" x2="15" y2="8.0" stroke="#909090" stroke-width="1"/><line x1="11.5" y1="1" x2="11.5" y2="15" stroke="#909090" stroke-width="1"/><line x1="1" y1="11.5" x2="15" y2="11.5" stroke="#909090" stroke-width="1"/><line x1="15.0" y1="1" x2="15.0" y2="15" stroke="#909090" stroke-width="1"/><line x1="1" y1="15.0" x2="15" y2="15.0" stroke="#909090" stroke-width="1"/><rect x="0.3" y="0.3" width="1.4" height="1.4" fill="#f00"/><rect x="0.3" y="7.3" width="1.4" height="1.4" fill="#f00"/><rect x="0.3" y="14.3" width="1.4" height="1.4" fill="#f00"/><rect x="3.8" y="3.8" width="1.4" height="1.4" fill="#f00"/><rect x="3.8" y="10.8" width="1.4" height="1.4" fill="#f00"/><rect x="7.3" y="0.3" width="1.4" height="1.4" fill="#f00"/><rect x="7.3" y="7.3" width="1.4" height="1.4" fill="#f00"/><rect x="7.3" y="14.3" width="1.4" height="1.4" fill="#f00"/><rect x="10.8" y="3.8" width="1.4" height="1.4" fill="#f00"/><rect x="10.8" y="10.8" width="1.4" height="1.4" fill="#f00"/><rect x="14.3" y="0.3" width="1.4" height="1.4" fill="#f00"/><rect x="14.3" y="7.3" width="1.4" height="1.4" fill="#f00"/><rect x="14.3" y="14.3" width="1.4" height="1.4" fill="#f00"/><circle cx="8" cy="8" r="1.6" fill="#f00"/></g><g transform="translate(592,5)"><rect x="1" y="1" width="14" height="14" fill="#fff"/><line x1="1.0" y1="1" x2="1.0" y2="15" stroke="#909090" stroke-width="1"/><line x1="1" y1="1.0" x2="15" y2="1.0" stroke="#909090" stroke-width="1"/><line x1="4.5" y1="1" x2="4.5" y2="15" stroke="#909090" stroke-width="1"/><line x1="1" y1="4.5" x2="15" y2="4.5" stroke="#909090" stroke-width="1"/><line x1="8.0" y1="1" x2="8.0" y2="15" stroke="#909090" stroke-width="1"/><line x1="1" y1="8.0" x2="15" y2="8.0" stroke="#909090" stroke-width="1"/><line x1="11.5" y1="1" x2="11.5" y2="15" stroke="#909090" stroke-width="1"/><line x1="1" y1="11.5" x2="15" y2="11.5" stroke="#909090" stroke-width="1"/><line x1="15.0" y1="1" x2="15.0" y2="15" stroke="#909090" stroke-width="1"/><line x1="1" y1="15.0" x2="15" y2="15.0" stroke="#909090" stroke-width="1"/><rect x="0.3" y="0.3" width="1.4" height="1.4" fill="#f00"/><rect x="0.3" y="7.3" width="1.4" height="1.4" fill="#f00"/><rect x="0.3" y="14.3" width="1.4" height="1.4" fill="#f00"/><rect x="3.8" y="3.8" width="1.4" height="1.4" fill="#f00"/><rect x="3.8" y="10.8" width="1.4" height="1.4" fill="#f00"/><rect x="7.3" y="0.3" width="1.4" height="1.4" fill="#f00"/><rect x="7.3" y="7.3" width="1.4" height="1.4" fill="#f00"/><rect x="7.3" y="14.3" width="1.4" height="1.4" fill="#f00"/><rect x="10.8" y="3.8" width="1.4" height="1.4" fill="#f00"/><rect x="10.8" y="10.8" width="1.4" height="1.4" fill="#f00"/><rect x="14.3" y="0.3" width="1.4" height="1.4" fill="#f00"/><rect x="14.3" y="7.3" width="1.4" height="1.4" fill="#f00"/><rect x="14.3" y="14.3" width="1.4" height="1.4" fill="#f00"/><circle cx="8" cy="8" r="1.6" fill="#f00"/><rect x="0.5" y="0" width="1.5" height="16" fill="#000"/><rect x="0.5" y="14.5" width="15.5" height="1.5" fill="#000"/><path d="M-1 2.5 L1.2 -0.5 L3.5 2.5 Z" fill="#000"/><path d="M13.5 13 L16.5 15.2 L13.5 17.5 Z" fill="#000"/></g><g transform="translate(615,5)"><line x1="1" y1="7" x2="15" y2="1" stroke="#606060" stroke-width="1"/><line x1="1" y1="10.5" x2="15" y2="4.5" stroke="#606060" stroke-width="1"/><line x1="1" y1="14" x2="15" y2="8" stroke="#606060" stroke-width="1"/><line x1="1.5" y1="5" x2="1.5" y2="16" stroke="#808080" stroke-width="1"/><line x1="12" y1="1" x2="12" y2="15" stroke="#808080" stroke-width="1"/><line x1="9" y1="3" x2="9" y2="11" stroke="#a0a0a0" stroke-width="1"/></g><rect x="636" y="2" width="1" height="22" fill="#a0a0a0"/><rect x="637" y="2" width="1" height="22" fill="#fff"/><rect x="641" y="3" width="1" height="20" fill="#fff"/><rect x="642" y="3" width="1" height="20" fill="#a0a0a0"/><rect x="641" y="22.5" width="2" height="1" fill="#a0a0a0"/><g transform="translate(648,5)"><rect x="1" y="1" width="1.5" height="14" fill="#000"/><rect x="1" y="1.0" width="9" height="1.2" fill="#000"/><rect x="1" y="4.2" width="7" height="1.2" fill="#000"/><rect x="1" y="7.4" width="9" height="1.2" fill="#000"/><rect x="1" y="10.600000000000001" width="7" height="1.2" fill="#000"/><rect x="1" y="13.8" width="9" height="1.2" fill="#000"/><rect x="9" y="1" width="1.2" height="14" fill="#000"/><rect x="11" y="2.0" width="3" height="1" fill="#000"/><rect x="11" y="5.4" width="3" height="1" fill="#000"/><rect x="11" y="8.8" width="3" height="1" fill="#000"/><rect x="11" y="12.2" width="3" height="1" fill="#000"/><rect x="13.5" y="2" width="1" height="3" fill="#000"/><rect x="13.5" y="9" width="1" height="5" fill="#000"/></g><g transform="translate(671,5)"><rect x="0" y="0.5" width="16" height="1.3" fill="#f00"/><rect x="0" y="14.5" width="6" height="1.3" fill="#f00"/><path d="M2.5 15 L8 1.5 L12 6 L15.5 2.5" stroke="#000" fill="none" stroke-width="1.1" /><text x="6.5" y="15.5" font-size="10" fill="#f00" font-family="Liberation Sans, sans-serif" textLength="9.5" lengthAdjust="spacingAndGlyphs">%</text></g><g transform="translate(694,5)"><text x="1" y="14.5" font-size="15" fill="#000" font-family="Liberation Sans, sans-serif" textLength="13" lengthAdjust="spacingAndGlyphs">%</text></g><g transform="translate(717,5)"><rect x="0" y="0.5" width="16" height="1.3" fill="#000"/><rect x="8" y="4" width="8" height="1.3" fill="#000"/><rect x="10" y="8.5" width="6" height="1.3" fill="#000"/><rect x="0" y="15" width="16" height="1.3" fill="#000"/><text x="0" y="14" font-size="10.5" fill="#f00" font-family="Liberation Sans, sans-serif" textLength="9.5" lengthAdjust="spacingAndGlyphs">%</text><rect x="0" y="13.6" width="10" height="1.2" fill="#f00"/></g><g transform="translate(740,5)"><circle cx="8" cy="8" r="7.3" fill="#f4f4f4" stroke="#909090" stroke-width="1"/><path d="M8.0 3.5 L3.5 7.0 M8.0 3.5 L12.5 7.0 M5.5 7.0 H10.5 M4.5 9.0 H11.5 M8.0 7.0 V12.0 M5.8 10.0 L6.5 11.5 M10.2 10.0 L9.5 11.5 M3.5 12.5 H12.5" stroke="#808000" fill="none" stroke-width="1" shape-rendering="crispEdges"/></g><g transform="translate(763,5)"><rect x="0" y="0.5" width="16" height="1.3" fill="#000"/><rect x="8" y="4" width="8" height="1.3" fill="#000"/><rect x="10" y="8.5" width="6" height="1.3" fill="#000"/><rect x="0" y="15" width="16" height="1.3" fill="#000"/><path d="M4.2749999999999995 4.5 L0 7.824999999999999 M4.2749999999999995 4.5 L8.549999999999999 7.824999999999999 M1.9 7.824999999999999 H6.6499999999999995 M0.95 9.725 H7.6 M4.2749999999999995 7.824999999999999 V12.575 M2.1849999999999996 10.675 L2.8499999999999996 12.1 M6.365 10.675 L5.699999999999999 12.1 M0 13.049999999999999 H8.549999999999999" stroke="#808000" fill="none" stroke-width="1" shape-rendering="crispEdges"/></g><g transform="translate(786,5)"><rect x="1.5" y="0.5" width="1.4" height="15.5" fill="#000"/><rect x="0" y="2.0" width="4.5" height="1.2" fill="#000"/><rect x="0" y="5.3" width="4.5" height="1.2" fill="#000"/><rect x="0" y="8.6" width="4.5" height="1.2" fill="#000"/><rect x="0" y="11.899999999999999" width="4.5" height="1.2" fill="#000"/><rect x="0" y="15.2" width="4.5" height="1.2" fill="#000"/><g transform="translate(1,1.5)"><path d="M9 1 L13 0 L15 3 L8 11 L4 12 L5 8 Z" fill="#b0b0b0" stroke="#404040" stroke-width="0.8"/><path d="M9 1 L12 -0.5 L15.5 2 L14 5 Z" fill="#f00"/><path d="M4 12 L5 9 L7 11 Z" fill="#f00"/></g></g><g transform="translate(809,5)"><rect x="0" y="0.5" width="16" height="1.3" fill="#f00"/><rect x="0" y="14.8" width="16" height="1.3" fill="#f00"/><path d="M0.5 12 Q3 -3 6 7 Q8.5 16 11 8 Q13.5 0 15.5 5" stroke="#707070" fill="none" stroke-width="1" /><rect x="0" y="7.3" width="16" height="1" fill="#404040"/><rect x="5" y="4" width="1" height="7" fill="#707070"/></g><g transform="translate(832,5)"><rect x="0" y="0.5" width="16" height="1.3" fill="#f00"/><rect x="0" y="14.8" width="16" height="1.3" fill="#f00"/><path d="M8.0 3.5 L3.5 7.0 M8.0 3.5 L12.5 7.0 M5.5 7.0 H10.5 M4.5 9.0 H11.5 M8.0 7.0 V12.0 M5.8 10.0 L6.5 11.5 M10.2 10.0 L9.5 11.5 M3.5 12.5 H12.5" stroke="#808000" fill="none" stroke-width="1" shape-rendering="crispEdges"/></g><g transform="translate(855,5)"><line x1="0.5" y1="15.5" x2="15.5" y2="0.5" stroke="#000" stroke-width="1.2"/><rect x="6" y="7.5" width="10" height="1.2" fill="#000"/><rect x="3.5" y="11" width="12.5" height="1.2" fill="#000"/><rect x="0.5" y="14.8" width="15.5" height="1.2" fill="#000"/><path d="M5 0.5 V6 Q4.5 8.5 2 8 Q0.5 7.5 0.5 6" stroke="#f00" fill="none" stroke-width="1.4" /></g><g transform="translate(878,5)"><line x1="0.5" y1="15.5" x2="15.5" y2="0.5" stroke="#000" stroke-width="1.2"/><rect x="6" y="7.5" width="10" height="1.2" fill="#000"/><rect x="3.5" y="11" width="12.5" height="1.2" fill="#000"/><rect x="0.5" y="14.8" width="15.5" height="1.2" fill="#000"/><path d="M1.5 9 V1 H7 M1.5 4.8 H6" stroke="#f00" fill="none" stroke-width="1.9" /></g><g transform="translate(901,5)"><line x1="0.5" y1="15.5" x2="15.5" y2="0.5" stroke="#000" stroke-width="1.2"/><rect x="6" y="7.5" width="10" height="1.2" fill="#000"/><rect x="3.5" y="11" width="12.5" height="1.2" fill="#000"/><rect x="0.5" y="14.8" width="15.5" height="1.2" fill="#000"/><path d="M4.05 0.5 L0 3.65 M4.05 0.5 L8.1 3.65 M1.8 3.65 H6.3 M0.9 5.45 H7.2 M4.05 3.65 V8.15 M2.07 6.3500000000000005 L2.7 7.7 M6.03 6.3500000000000005 L5.4 7.7 M0 8.6 H8.1" stroke="#808000" fill="none" stroke-width="1" shape-rendering="crispEdges"/></g><g transform="translate(924,5)"><line x1="0.5" y1="15.5" x2="15.5" y2="0.5" stroke="#000" stroke-width="1.2"/><rect x="6" y="7.5" width="10" height="1.2" fill="#000"/><rect x="3.5" y="11" width="12.5" height="1.2" fill="#000"/><rect x="0.5" y="14.8" width="15.5" height="1.2" fill="#000"/><g transform="translate(-2,-5) scale(0.8)"><path d="M3 5 L4.5 6.5 M1 8 H6 L3 11 M4 9.5 V15 M5 11 L6 12 M8 7 H14 V12 H8 Z M8 9.5 H14 M11 5.5 V15.5" stroke="#f00" fill="none" stroke-width="1.1" /></g></g><g transform="translate(947,5)"><line x1="0.5" y1="15.5" x2="15.5" y2="0.5" stroke="#000" stroke-width="1.2"/><rect x="6" y="7.5" width="10" height="1.2" fill="#000"/><rect x="3.5" y="11" width="12.5" height="1.2" fill="#000"/><rect x="0.5" y="14.8" width="15.5" height="1.2" fill="#000"/><g transform="translate(-1,-4) scale(0.78)"><path d="M8 5 V6 M2 6.5 H14 M3 8 H13 M5 9.5 H11 V11 H5 Z M2 12 V15 M2 12 H5 V15 M3.5 13.5 H5 M6.5 12 H9.5 V15 H6.5 Z M8 15 L9.5 16 M11 12 H14 V15.5 M11 12 V15 L10.5 16 M12.5 13 V14" stroke="#f00" fill="none" stroke-width="1" /></g></g><g transform="translate(970,5)"><line x1="0.5" y1="15.5" x2="15.5" y2="0.5" stroke="#000" stroke-width="1.2"/><rect x="6" y="7.5" width="10" height="1.2" fill="#000"/><rect x="3.5" y="11" width="12.5" height="1.2" fill="#000"/><rect x="0.5" y="14.8" width="15.5" height="1.2" fill="#000"/><path d="M0.8 1 H8 V7.5 H0.8 Z M3 1 V4.5 L1.5 6 M5.5 1 V5 H7.5" stroke="#f00" fill="none" stroke-width="1" /></g></svg></div>
<div id="edge"></div>
<svg id="chart" width="1216" height="683" viewBox="0 0 1216 683" shape-rendering="crispEdges">
<rect x="0" y="131" width="1216" height="550" fill="#fff"/>
<rect x="1211" y="131" width="2" height="550" fill="#888"/>
<rect x="45" y="143" width="1166" height="1" fill="#a0a0a0"/>
<rect x="0" y="589" width="1216" height="2" fill="#8c8c8c"/>
<rect x="45" y="606" width="1166" height="1" fill="#a0a0a0"/>
<line x1="45" y1="523.5" x2="1211" y2="523.5" stroke="#a4a4a4" stroke-width="1" stroke-dasharray="3 3"/>
<line x1="45" y1="541.5" x2="1211" y2="541.5" stroke="#a4a4a4" stroke-width="1" stroke-dasharray="3 3"/>
<line x1="45" y1="557.5" x2="1211" y2="557.5" stroke="#a4a4a4" stroke-width="1" stroke-dasharray="3 3"/>
<line x1="45" y1="573.5" x2="1211" y2="573.5" stroke="#a4a4a4" stroke-width="1" stroke-dasharray="3 3"/>
<line x1="45" y1="610.5" x2="1211" y2="610.5" stroke="#a4a4a4" stroke-width="1" stroke-dasharray="3 3"/>
<line x1="45" y1="628.5" x2="1211" y2="628.5" stroke="#a4a4a4" stroke-width="1" stroke-dasharray="3 3"/>
<line x1="45" y1="646.5" x2="1211" y2="646.5" stroke="#a4a4a4" stroke-width="1" stroke-dasharray="3 3"/>
<line x1="45" y1="654.5" x2="1211" y2="654.5" stroke="#a4a4a4" stroke-width="1" stroke-dasharray="3 3"/>
<line x1="45" y1="664.5" x2="1211" y2="664.5" stroke="#a4a4a4" stroke-width="1" stroke-dasharray="3 3"/>
<line x1="45" y1="637.5" x2="1216" y2="637.5" stroke="#000" stroke-width="1" stroke-dasharray="3 2"/>
<line x1="990" y1="224.5" x2="1199" y2="224.5" stroke="#808080" stroke-width="1" stroke-dasharray="7 2"/>
<line x1="825.5" y1="591" x2="825.5" y2="683" stroke="#000" stroke-width="1" stroke-dasharray="3 2"/>
<rect x="48" y="415" width="1" height="1" fill="#008000"/>
<rect x="45" y="409" width="6" height="6" fill="#008000"/>
<rect x="55" y="403" width="1" height="10" fill="#ff0000"/>
<rect x="55" y="415" width="1" height="1" fill="#ff0000"/>
<rect x="52" y="413" width="6" height="2" fill="#ff0000"/>
<rect x="62" y="414" width="1" height="5" fill="#008000"/>
<rect x="59" y="412" width="6" height="2" fill="#008000"/>
<rect x="69" y="395" width="1" height="2" fill="#ff0000"/>
<rect x="69" y="409" width="1" height="2" fill="#ff0000"/>
<rect x="66.5" y="397.5" width="5" height="11" fill="none" stroke="#ff0000" stroke-width="1"/>
<rect x="76" y="394" width="1" height="2" fill="#008000"/>
<rect x="76" y="399" width="1" height="2" fill="#008000"/>
<rect x="73" y="396" width="6" height="3" fill="#008000"/>
<rect x="83" y="396" width="1" height="2" fill="#008000"/>
<rect x="83" y="399" width="1" height="1" fill="#008000"/>
<rect x="80" y="398" width="6" height="1" fill="#008000"/>
<rect x="90" y="409" width="1" height="1" fill="#008000"/>
<rect x="87" y="400" width="6" height="9" fill="#008000"/>
<rect x="97" y="408" width="1" height="6" fill="#ff0000"/>
<rect x="94" y="407" width="6" height="1" fill="#ff0000"/>
<rect x="104" y="417" width="1" height="4" fill="#008000"/>
<rect x="101" y="409" width="6" height="8" fill="#008000"/>
<rect x="111" y="412" width="1" height="1" fill="#008000"/>
<rect x="111" y="415" width="1" height="3" fill="#008000"/>
<rect x="108" y="413" width="6" height="2" fill="#008000"/>
<rect x="118" y="418" width="1" height="5" fill="#ff0000"/>
<rect x="115.5" y="408.5" width="5" height="9" fill="none" stroke="#ff0000" stroke-width="1"/>
<rect x="125" y="402" width="1" height="8" fill="#008000"/>
<rect x="122" y="410" width="6" height="1" fill="#008000"/>
<rect x="132" y="410" width="1" height="1" fill="#ff0000"/>
<rect x="129.5" y="404.5" width="5" height="5" fill="none" stroke="#ff0000" stroke-width="1"/>
<rect x="139" y="403" width="1" height="1" fill="#008000"/>
<rect x="136" y="402" width="6" height="1" fill="#008000"/>
<rect x="146" y="401" width="1" height="1" fill="#008000"/>
<rect x="146" y="404" width="1" height="1" fill="#008000"/>
<rect x="143" y="402" width="6" height="2" fill="#008000"/>
<rect x="153" y="396" width="1" height="1" fill="#ff0000"/>
<rect x="153" y="404" width="1" height="2" fill="#ff0000"/>
<rect x="150.5" y="397.5" width="5" height="6" fill="none" stroke="#ff0000" stroke-width="1"/>
<rect x="160" y="395" width="1" height="2" fill="#008000"/>
<rect x="160" y="401" width="1" height="1" fill="#008000"/>
<rect x="157" y="397" width="6" height="4" fill="#008000"/>
<rect x="167" y="400" width="1" height="2" fill="#008000"/>
<rect x="167" y="403" width="1" height="3" fill="#008000"/>
<rect x="164" y="402" width="6" height="1" fill="#008000"/>
<rect x="174" y="399" width="1" height="3" fill="#008000"/>
<rect x="171" y="402" width="6" height="1" fill="#008000"/>
<rect x="181" y="409" width="1" height="4" fill="#008000"/>
<rect x="178" y="403" width="6" height="6" fill="#008000"/>
<rect x="188" y="401" width="1" height="1" fill="#ff0000"/>
<rect x="188" y="411" width="1" height="1" fill="#ff0000"/>
<rect x="185.5" y="402.5" width="5" height="8" fill="none" stroke="#ff0000" stroke-width="1"/>
<rect x="195" y="406" width="1" height="4" fill="#008000"/>
<rect x="192" y="402" width="6" height="4" fill="#008000"/>
<rect x="202" y="400" width="1" height="6" fill="#ff0000"/>
<rect x="199.5" y="406.5" width="5" height="2" fill="none" stroke="#ff0000" stroke-width="1"/>
<rect x="209" y="397" width="1" height="1" fill="#ff0000"/>
<rect x="209" y="405" width="1" height="3" fill="#ff0000"/>
<rect x="206.5" y="398.5" width="5" height="6" fill="none" stroke="#ff0000" stroke-width="1"/>
<rect x="216" y="395" width="1" height="1" fill="#ff0000"/>
<rect x="216" y="398" width="1" height="2" fill="#ff0000"/>
<rect x="213" y="396" width="6" height="2" fill="#ff0000"/>
<rect x="223" y="395" width="1" height="3" fill="#ff0000"/>
<rect x="223" y="399" width="1" height="1" fill="#ff0000"/>
<rect x="220" y="398" width="6" height="1" fill="#ff0000"/>
<rect x="230" y="388" width="1" height="1" fill="#ff0000"/>
<rect x="227.5" y="389.5" width="5" height="8" fill="none" stroke="#ff0000" stroke-width="1"/>
<rect x="237" y="388" width="1" height="1" fill="#ff0000"/>
<rect x="234.5" y="382.5" width="5" height="5" fill="none" stroke="#ff0000" stroke-width="1"/>
<rect x="241" y="385" width="6" height="6" fill="#008000"/>
<rect x="251" y="395" width="1" height="2" fill="#008000"/>
<rect x="248" y="392" width="6" height="3" fill="#008000"/>
<rect x="258" y="395" width="1" height="1" fill="#008000"/>
<rect x="258" y="409" width="1" height="3" fill="#008000"/>
<rect x="255" y="396" width="6" height="13" fill="#008000"/>
<rect x="265" y="408" width="1" height="1" fill="#ff0000"/>
<rect x="265" y="413" width="1" height="2" fill="#ff0000"/>
<rect x="262.5" y="409.5" width="5" height="3" fill="none" stroke="#ff0000" stroke-width="1"/>
<rect x="272" y="406" width="1" height="1" fill="#008000"/>
<rect x="272" y="408" width="1" height="2" fill="#008000"/>
<rect x="269" y="407" width="6" height="1" fill="#008000"/>
<rect x="279" y="404" width="1" height="1" fill="#ff0000"/>
<rect x="279" y="408" width="1" height="2" fill="#ff0000"/>
<rect x="276.5" y="405.5" width="5" height="2" fill="none" stroke="#ff0000" stroke-width="1"/>
<rect x="286" y="408" width="1" height="4" fill="#008000"/>
<rect x="283" y="406" width="6" height="2" fill="#008000"/>
<rect x="293" y="402" width="1" height="2" fill="#ff0000"/>
<rect x="293" y="408" width="1" height="1" fill="#ff0000"/>
<rect x="290.5" y="404.5" width="5" height="3" fill="none" stroke="#ff0000" stroke-width="1"/>
<rect x="300" y="400" width="1" height="4" fill="#ff0000"/>
<rect x="300" y="406" width="1" height="3" fill="#ff0000"/>
<rect x="297" y="404" width="6" height="2" fill="#ff0000"/>
<rect x="307" y="397" width="1" height="2" fill="#ff0000"/>
<rect x="304.5" y="399.5" width="5" height="3" fill="none" stroke="#ff0000" stroke-width="1"/>
<rect x="314" y="398" width="1" height="3" fill="#008000"/>
<rect x="311" y="397" width="6" height="1" fill="#008000"/>
<rect x="321" y="393" width="1" height="1" fill="#ff0000"/>
<rect x="321" y="398" width="1" height="2" fill="#ff0000"/>
<rect x="318.5" y="394.5" width="5" height="3" fill="none" stroke="#ff0000" stroke-width="1"/>
<rect x="328" y="391" width="1" height="1" fill="#ff0000"/>
<rect x="328" y="396" width="1" height="2" fill="#ff0000"/>
<rect x="325.5" y="392.5" width="5" height="3" fill="none" stroke="#ff0000" stroke-width="1"/>
<rect x="335" y="394" width="1" height="1" fill="#008000"/>
<rect x="332" y="392" width="6" height="2" fill="#008000"/>
<rect x="342" y="392" width="1" height="2" fill="#ff0000"/>
<rect x="342" y="395" width="1" height="1" fill="#ff0000"/>
<rect x="339" y="394" width="6" height="1" fill="#ff0000"/>
<rect x="349" y="394" width="1" height="5" fill="#ff0000"/>
<rect x="346" y="392" width="6" height="2" fill="#ff0000"/>
<rect x="353" y="393" width="6" height="10" fill="#008000"/>
<rect x="363" y="400" width="1" height="1" fill="#ff0000"/>
<rect x="363" y="402" width="1" height="1" fill="#ff0000"/>
<rect x="360" y="401" width="6" height="1" fill="#ff0000"/>
<rect x="370" y="397" width="1" height="2" fill="#ff0000"/>
<rect x="370" y="404" width="1" height="1" fill="#ff0000"/>
<rect x="367.5" y="399.5" width="5" height="4" fill="none" stroke="#ff0000" stroke-width="1"/>
<rect x="377" y="398" width="1" height="2" fill="#ff0000"/>
<rect x="374.5" y="391.5" width="5" height="6" fill="none" stroke="#ff0000" stroke-width="1"/>
<rect x="384" y="391" width="1" height="3" fill="#ff0000"/>
<rect x="381" y="389" width="6" height="2" fill="#ff0000"/>
<rect x="391" y="388" width="1" height="2" fill="#008000"/>
<rect x="391" y="391" width="1" height="2" fill="#008000"/>
<rect x="388" y="390" width="6" height="1" fill="#008000"/>
<rect x="398" y="395" width="1" height="4" fill="#008000"/>
<rect x="395" y="392" width="6" height="3" fill="#008000"/>
<rect x="405" y="390" width="1" height="4" fill="#ff0000"/>
<rect x="405" y="398" width="1" height="2" fill="#ff0000"/>
<rect x="402.5" y="394.5" width="5" height="3" fill="none" stroke="#ff0000" stroke-width="1"/>
<rect x="412" y="396" width="1" height="2" fill="#008000"/>
<rect x="409" y="394" width="6" height="2" fill="#008000"/>
<rect x="419" y="386" width="1" height="1" fill="#ff0000"/>
<rect x="416.5" y="387.5" width="5" height="10" fill="none" stroke="#ff0000" stroke-width="1"/>
<rect x="426" y="382" width="1" height="4" fill="#ff0000"/>
<rect x="426" y="387" width="1" height="1" fill="#ff0000"/>
<rect x="423" y="386" width="6" height="1" fill="#ff0000"/>
<rect x="433" y="384" width="1" height="1" fill="#ff0000"/>
<rect x="430.5" y="374.5" width="5" height="9" fill="none" stroke="#ff0000" stroke-width="1"/>
<rect x="440" y="364" width="1" height="2" fill="#ff0000"/>
<rect x="440" y="371" width="1" height="2" fill="#ff0000"/>
<rect x="437.5" y="366.5" width="5" height="4" fill="none" stroke="#ff0000" stroke-width="1"/>
<rect x="447" y="341" width="1" height="2" fill="#ff0000"/>
<rect x="447" y="360" width="1" height="1" fill="#ff0000"/>
<rect x="444.5" y="343.5" width="5" height="16" fill="none" stroke="#ff0000" stroke-width="1"/>
<rect x="454" y="336" width="1" height="4" fill="#ff0000"/>
<rect x="454" y="342" width="1" height="3" fill="#ff0000"/>
<rect x="451" y="340" width="6" height="2" fill="#ff0000"/>
<rect x="461" y="335" width="1" height="6" fill="#ff0000"/>
<rect x="461" y="342" width="1" height="1" fill="#ff0000"/>
<rect x="458" y="341" width="6" height="1" fill="#ff0000"/>
<rect x="468" y="331" width="1" height="1" fill="#ff0000"/>
<rect x="468" y="341" width="1" height="3" fill="#ff0000"/>
<rect x="465.5" y="332.5" width="5" height="8" fill="none" stroke="#ff0000" stroke-width="1"/>
<rect x="475" y="326" width="1" height="10" fill="#008000"/>
<rect x="475" y="339" width="1" height="1" fill="#008000"/>
<rect x="472" y="336" width="6" height="3" fill="#008000"/>
<rect x="482" y="323" width="1" height="1" fill="#ff0000"/>
<rect x="482" y="336" width="1" height="2" fill="#ff0000"/>
<rect x="479.5" y="324.5" width="5" height="11" fill="none" stroke="#ff0000" stroke-width="1"/>
<rect x="489" y="324" width="1" height="6" fill="#008000"/>
<rect x="486" y="323" width="6" height="1" fill="#008000"/>
<rect x="496" y="323" width="1" height="2" fill="#ff0000"/>
<rect x="496" y="328" width="1" height="8" fill="#ff0000"/>
<rect x="493.5" y="325.5" width="5" height="2" fill="none" stroke="#ff0000" stroke-width="1"/>
<rect x="503" y="325" width="1" height="1" fill="#008000"/>
<rect x="500" y="326" width="6" height="12" fill="#008000"/>
<rect x="510" y="333" width="1" height="2" fill="#ff0000"/>
<rect x="510" y="338" width="1" height="3" fill="#ff0000"/>
<rect x="507.5" y="335.5" width="5" height="2" fill="none" stroke="#ff0000" stroke-width="1"/>
<rect x="517" y="333" width="1" height="1" fill="#ff0000"/>
<rect x="514.5" y="322.5" width="5" height="10" fill="none" stroke="#ff0000" stroke-width="1"/>
<rect x="524" y="325" width="1" height="4" fill="#008000"/>
<rect x="521" y="324" width="6" height="1" fill="#008000"/>
<rect x="531" y="321" width="1" height="2" fill="#008000"/>
<rect x="531" y="324" width="1" height="8" fill="#008000"/>
<rect x="528" y="323" width="6" height="1" fill="#008000"/>
<rect x="538" y="321" width="1" height="3" fill="#008000"/>
<rect x="538" y="330" width="1" height="1" fill="#008000"/>
<rect x="535" y="324" width="6" height="6" fill="#008000"/>
<rect x="545" y="320" width="1" height="2" fill="#ff0000"/>
<rect x="545" y="329" width="1" height="2" fill="#ff0000"/>
<rect x="542.5" y="322.5" width="5" height="6" fill="none" stroke="#ff0000" stroke-width="1"/>
<rect x="552" y="316" width="1" height="1" fill="#ff0000"/>
<rect x="552" y="320" width="1" height="1" fill="#ff0000"/>
<rect x="549.5" y="317.5" width="5" height="2" fill="none" stroke="#ff0000" stroke-width="1"/>
<rect x="559" y="316" width="1" height="5" fill="#ff0000"/>
<rect x="556" y="314" width="6" height="2" fill="#ff0000"/>
<rect x="566" y="313" width="1" height="3" fill="#008000"/>
<rect x="566" y="317" width="1" height="1" fill="#008000"/>
<rect x="563" y="316" width="6" height="1" fill="#008000"/>
<rect x="573" y="320" width="1" height="8" fill="#008000"/>
<rect x="570" y="316" width="6" height="4" fill="#008000"/>
<rect x="580" y="314" width="1" height="1" fill="#ff0000"/>
<rect x="580" y="320" width="1" height="2" fill="#ff0000"/>
<rect x="577.5" y="315.5" width="5" height="4" fill="none" stroke="#ff0000" stroke-width="1"/>
<rect x="587" y="320" width="1" height="3" fill="#008000"/>
<rect x="584" y="315" width="6" height="5" fill="#008000"/>
<rect x="594" y="320" width="1" height="2" fill="#008000"/>
<rect x="594" y="329" width="1" height="4" fill="#008000"/>
<rect x="591" y="322" width="6" height="7" fill="#008000"/>
<rect x="601" y="327" width="1" height="2" fill="#ff0000"/>
<rect x="601" y="330" width="1" height="1" fill="#ff0000"/>
<rect x="598" y="329" width="6" height="1" fill="#ff0000"/>
<rect x="608" y="328" width="1" height="1" fill="#008000"/>
<rect x="605" y="329" width="6" height="6" fill="#008000"/>
<rect x="615" y="325" width="1" height="1" fill="#ff0000"/>
<rect x="615" y="333" width="1" height="3" fill="#ff0000"/>
<rect x="612.5" y="326.5" width="5" height="6" fill="none" stroke="#ff0000" stroke-width="1"/>
<rect x="622" y="317" width="1" height="2" fill="#ff0000"/>
<rect x="622" y="323" width="1" height="1" fill="#ff0000"/>
<rect x="619.5" y="319.5" width="5" height="3" fill="none" stroke="#ff0000" stroke-width="1"/>
<rect x="629" y="316" width="1" height="2" fill="#ff0000"/>
<rect x="626.5" y="304.5" width="5" height="11" fill="none" stroke="#ff0000" stroke-width="1"/>
<rect x="636" y="294" width="1" height="1" fill="#ff0000"/>
<rect x="636" y="303" width="1" height="1" fill="#ff0000"/>
<rect x="633.5" y="295.5" width="5" height="7" fill="none" stroke="#ff0000" stroke-width="1"/>
<rect x="643" y="286" width="1" height="1" fill="#ff0000"/>
<rect x="643" y="294" width="1" height="3" fill="#ff0000"/>
<rect x="640.5" y="287.5" width="5" height="6" fill="none" stroke="#ff0000" stroke-width="1"/>
<rect x="650" y="277" width="1" height="1" fill="#ff0000"/>
<rect x="650" y="285" width="1" height="2" fill="#ff0000"/>
<rect x="647.5" y="278.5" width="5" height="6" fill="none" stroke="#ff0000" stroke-width="1"/>
<rect x="657" y="278" width="1" height="5" fill="#008000"/>
<rect x="654" y="277" width="6" height="1" fill="#008000"/>
<rect x="664" y="281" width="1" height="2" fill="#008000"/>
<rect x="664" y="284" width="1" height="3" fill="#008000"/>
<rect x="661" y="283" width="6" height="1" fill="#008000"/>
<rect x="671" y="272" width="1" height="11" fill="#008000"/>
<rect x="671" y="285" width="1" height="3" fill="#008000"/>
<rect x="668" y="283" width="6" height="2" fill="#008000"/>
<rect x="678" y="275" width="1" height="1" fill="#ff0000"/>
<rect x="678" y="286" width="1" height="2" fill="#ff0000"/>
<rect x="675.5" y="276.5" width="5" height="9" fill="none" stroke="#ff0000" stroke-width="1"/>
<rect x="685" y="272" width="1" height="1" fill="#ff0000"/>
<rect x="685" y="277" width="1" height="3" fill="#ff0000"/>
<rect x="682.5" y="273.5" width="5" height="3" fill="none" stroke="#ff0000" stroke-width="1"/>
<rect x="692" y="270" width="1" height="2" fill="#008000"/>
<rect x="689" y="272" width="6" height="19" fill="#008000"/>
<rect x="699" y="286" width="1" height="1" fill="#ff0000"/>
<rect x="699" y="290" width="1" height="7" fill="#ff0000"/>
<rect x="696.5" y="287.5" width="5" height="2" fill="none" stroke="#ff0000" stroke-width="1"/>
<rect x="706" y="282" width="1" height="2" fill="#ff0000"/>
<rect x="706" y="288" width="1" height="2" fill="#ff0000"/>
<rect x="703.5" y="284.5" width="5" height="3" fill="none" stroke="#ff0000" stroke-width="1"/>
<rect x="713" y="276" width="1" height="1" fill="#ff0000"/>
<rect x="713" y="285" width="1" height="2" fill="#ff0000"/>
<rect x="710.5" y="277.5" width="5" height="7" fill="none" stroke="#ff0000" stroke-width="1"/>
<rect x="720" y="294" width="1" height="3" fill="#008000"/>
<rect x="717" y="280" width="6" height="14" fill="#008000"/>
<rect x="727" y="285" width="1" height="1" fill="#ff0000"/>
<rect x="727" y="293" width="1" height="1" fill="#ff0000"/>
<rect x="724.5" y="286.5" width="5" height="6" fill="none" stroke="#ff0000" stroke-width="1"/>
<rect x="734" y="270" width="1" height="1" fill="#ff0000"/>
<rect x="734" y="289" width="1" height="2" fill="#ff0000"/>
<rect x="731.5" y="271.5" width="5" height="17" fill="none" stroke="#ff0000" stroke-width="1"/>
<rect x="741" y="263" width="1" height="4" fill="#008000"/>
<rect x="741" y="270" width="1" height="3" fill="#008000"/>
<rect x="738" y="267" width="6" height="3" fill="#008000"/>
<rect x="748" y="273" width="1" height="4" fill="#ff0000"/>
<rect x="745.5" y="269.5" width="5" height="3" fill="none" stroke="#ff0000" stroke-width="1"/>
<rect x="755" y="262" width="1" height="2" fill="#ff0000"/>
<rect x="755" y="267" width="1" height="3" fill="#ff0000"/>
<rect x="752.5" y="264.5" width="5" height="2" fill="none" stroke="#ff0000" stroke-width="1"/>
<rect x="762" y="261" width="1" height="2" fill="#ff0000"/>
<rect x="762" y="264" width="1" height="2" fill="#ff0000"/>
<rect x="759" y="263" width="6" height="1" fill="#ff0000"/>
<rect x="769" y="254" width="1" height="1" fill="#ff0000"/>
<rect x="769" y="260" width="1" height="5" fill="#ff0000"/>
<rect x="766.5" y="255.5" width="5" height="4" fill="none" stroke="#ff0000" stroke-width="1"/>
<rect x="776" y="250" width="1" height="1" fill="#ff0000"/>
<rect x="776" y="253" width="1" height="8" fill="#ff0000"/>
<rect x="773" y="251" width="6" height="2" fill="#ff0000"/>
<rect x="783" y="252" width="1" height="2" fill="#008000"/>
<rect x="783" y="258" width="1" height="3" fill="#008000"/>
<rect x="780" y="254" width="6" height="4" fill="#008000"/>
<rect x="790" y="263" width="1" height="9" fill="#008000"/>
<rect x="787" y="262" width="6" height="1" fill="#008000"/>
<rect x="797" y="256" width="1" height="7" fill="#008000"/>
<rect x="797" y="264" width="1" height="4" fill="#008000"/>
<rect x="794" y="263" width="6" height="1" fill="#008000"/>
<rect x="804" y="256" width="1" height="2" fill="#ff0000"/>
<rect x="804" y="265" width="1" height="6" fill="#ff0000"/>
<rect x="801.5" y="258.5" width="5" height="6" fill="none" stroke="#ff0000" stroke-width="1"/>
<rect x="811" y="252" width="1" height="11" fill="#008000"/>
<rect x="811" y="265" width="1" height="2" fill="#008000"/>
<rect x="808" y="263" width="6" height="2" fill="#008000"/>
<rect x="818" y="265" width="1" height="2" fill="#008000"/>
<rect x="818" y="271" width="1" height="13" fill="#008000"/>
<rect x="815" y="267" width="6" height="4" fill="#008000"/>
<rect x="825" y="265" width="1" height="1" fill="#ff0000"/>
<rect x="825" y="269" width="1" height="3" fill="#ff0000"/>
<rect x="822.5" y="266.5" width="5" height="2" fill="none" stroke="#ff0000" stroke-width="1"/>
<rect x="832" y="264" width="1" height="2" fill="#008000"/>
<rect x="829" y="266" width="6" height="7" fill="#008000"/>
<rect x="839" y="268" width="1" height="5" fill="#008000"/>
<rect x="836" y="273" width="6" height="5" fill="#008000"/>
<rect x="846" y="278" width="1" height="2" fill="#008000"/>
<rect x="846" y="289" width="1" height="2" fill="#008000"/>
<rect x="843" y="280" width="6" height="9" fill="#008000"/>
<rect x="853" y="284" width="1" height="4" fill="#008000"/>
<rect x="853" y="289" width="1" height="2" fill="#008000"/>
<rect x="850" y="288" width="6" height="1" fill="#008000"/>
<rect x="860" y="294" width="1" height="4" fill="#008000"/>
<rect x="857" y="293" width="6" height="1" fill="#008000"/>
<rect x="867" y="273" width="1" height="1" fill="#ff0000"/>
<rect x="864.5" y="274.5" width="5" height="16" fill="none" stroke="#ff0000" stroke-width="1"/>
<rect x="874" y="254" width="1" height="4" fill="#ff0000"/>
<rect x="874" y="270" width="1" height="3" fill="#ff0000"/>
<rect x="871.5" y="258.5" width="5" height="11" fill="none" stroke="#ff0000" stroke-width="1"/>
<rect x="881" y="248" width="1" height="2" fill="#ff0000"/>
<rect x="881" y="259" width="1" height="2" fill="#ff0000"/>
<rect x="878.5" y="250.5" width="5" height="8" fill="none" stroke="#ff0000" stroke-width="1"/>
<rect x="888" y="236" width="1" height="3" fill="#ff0000"/>
<rect x="888" y="249" width="1" height="4" fill="#ff0000"/>
<rect x="885.5" y="239.5" width="5" height="9" fill="none" stroke="#ff0000" stroke-width="1"/>
<rect x="895" y="231" width="1" height="3" fill="#ff0000"/>
<rect x="895" y="236" width="1" height="3" fill="#ff0000"/>
<rect x="892" y="234" width="6" height="2" fill="#ff0000"/>
<rect x="902" y="231" width="1" height="3" fill="#ff0000"/>
<rect x="902" y="235" width="1" height="4" fill="#ff0000"/>
<rect x="899" y="234" width="6" height="1" fill="#ff0000"/>
<rect x="909" y="233" width="1" height="1" fill="#008000"/>
<rect x="909" y="238" width="1" height="2" fill="#008000"/>
<rect x="906" y="234" width="6" height="4" fill="#008000"/>
<rect x="916" y="238" width="1" height="8" fill="#ff0000"/>
<rect x="913.5" y="235.5" width="5" height="2" fill="none" stroke="#ff0000" stroke-width="1"/>
<rect x="923" y="224" width="1" height="10" fill="#008000"/>
<rect x="923" y="239" width="1" height="4" fill="#008000"/>
<rect x="920" y="234" width="6" height="5" fill="#008000"/>
<rect x="930" y="214" width="1" height="1" fill="#ff0000"/>
<rect x="930" y="230" width="1" height="4" fill="#ff0000"/>
<rect x="927.5" y="215.5" width="5" height="14" fill="none" stroke="#ff0000" stroke-width="1"/>
<rect x="937" y="201" width="1" height="9" fill="#008000"/>
<rect x="937" y="215" width="1" height="11" fill="#008000"/>
<rect x="934" y="210" width="6" height="5" fill="#008000"/>
<rect x="944" y="205" width="1" height="1" fill="#ff0000"/>
<rect x="944" y="222" width="1" height="5" fill="#ff0000"/>
<rect x="941.5" y="206.5" width="5" height="15" fill="none" stroke="#ff0000" stroke-width="1"/>
<rect x="951" y="201" width="1" height="4" fill="#008000"/>
<rect x="951" y="210" width="1" height="5" fill="#008000"/>
<rect x="948" y="205" width="6" height="5" fill="#008000"/>
<rect x="958" y="210" width="1" height="3" fill="#ff0000"/>
<rect x="958" y="214" width="1" height="8" fill="#ff0000"/>
<rect x="955" y="213" width="6" height="1" fill="#ff0000"/>
<rect x="965" y="199" width="1" height="1" fill="#008000"/>
<rect x="962" y="200" width="6" height="15" fill="#008000"/>
<rect x="972" y="222" width="1" height="2" fill="#008000"/>
<rect x="969" y="214" width="6" height="8" fill="#008000"/>
<rect x="979" y="221" width="1" height="3" fill="#008000"/>
<rect x="979" y="225" width="1" height="2" fill="#008000"/>
<rect x="976" y="224" width="6" height="1" fill="#008000"/>
<rect x="986" y="221" width="1" height="3" fill="#ff0000"/>
<rect x="986" y="228" width="1" height="2" fill="#ff0000"/>
<rect x="983.5" y="224.5" width="5" height="3" fill="none" stroke="#ff0000" stroke-width="1"/>
<polyline points="48,304.25 55,307.02 62,308.02 69,307.5 76,308.75 90,311.02 104,313.02 118,314.5 132,315.5 146,317.5 160,316.75 174,318.02 181,321.02 195,322.5 209,323.02 223,324.5 237,323.02 251,324.02 265,326.02 279,330.5 293,334.02 304,334.75 318,336.25 332,338.75 346,340.5 363,341.5 379,340.5 399,340.5 414,341.5 429,339.75 439,337.9 446.5,335.3 454,333.5 466.5,332.02 479,327.02 489,322.5 504,318.75 519,315.02 534,312.02 549,308.02 564,305.02 579,301.25 594,295.02 601.5,295.75 608,294.25 623,290.02 638,284.5 653,278.02 668,271.25 683,263.02 693,257.5 708,252.5 723,246.25 733,241.25 743,236.25 753,233.25 768,227.5 783,220.5 793,219.5 803,215.75 818,211.75 833,210.5 848,208.75 860.5,207.5 873,203.75 880,200.75 896.6,195.25 915.9,191.02 929.7,182.8 943.5,174.5 962.9,166.25 982.2,161.5 1001.6,161.25 1018.2,162.7 1034.7,166.8 1056.8,167.6 1078.9,171.8 1101,172.6 1123.2,175.4 1145.3,178.7 1164.6,183.4 1183.9,185.02 1196,185.6" fill="none" stroke="#ff0000" stroke-width="1" />
<polyline points="48,523.25 55,521.25 62,520.25 69,521.25 76,519.25 83,517.25 90,518.25 104,517.25 118,515.25 125,515.02 132,512.5 146,508.25 160,508.02 174,505.75 181,501.25 195,501.02 202,502.25 216,500.02 237,499.25 251,496.5 265,497.02 272,494.02 279,495.02 304,496.02 319,494.25 334,492.5 349,491.25 361.5,488.25 379,487.5 394,485.75 406.5,485.02 412.75,482.5 417.75,483.25 434,483.25 440.25,482.5 449,483.25 454,482.5 461.5,479.5 469,478.25 479,479.25 494,478.02 509,477.02 519,476.25 529,473.25 544,470.75 556.5,466.75 569,465.02 581.5,462.5 594,461.25 601.5,457.5 608,456.5 630.5,455.02 648,450.75 658,448.02 664.25,445.02 675.5,444.4 685.5,442.02 693,444.4 703,441.25 713,438.25 725.5,437.5 733,438.25 748,434.4 763,427.5 778,422.5 793,417.02 808,416.25 820.5,415.02 828,412.02 843,410.02 860.5,406.25 865.5,408.02 880.5,407.5 895.5,405.02 912,401.25 919.5,400.02 932,401.25 944.5,403.25 952,402.5 959.5,398.75 972,396.25 987,391.75 1002,386.75 1017,378.75 1029.5,372.5 1037,366.25 1054.5,358.02 1062,352.5 1072,347.5 1079.5,341.25 1092,336.25 1104.5,333.02 1122,325.5 1137,318.25 1152,311.25 1162,303.25 1169.5,301.25 1182,295.02 1196,287.02" fill="none" stroke="#ff0000" stroke-width="1" />
<polyline points="48,348.02 62,350.02 76,350.75 90,351.75 104,353.02 118,354.5 132,355.5 146,356.02 160,355.02 174,356.02 188,357.5 202,358.02 216,358.75 230,358.5 244,358.5 258,359.5 272,362.5 286,364.5 304,366.4 318,368.25 332,369.5 346,370.5 366.5,370.5 386.5,369.5 409,369.5 424,369.25 436.5,368.02 444,367.02 454,364.5 469,360.5 484,356.25 499,352.02 514,348.75 529,345.02 544,340.75 559,336.75 574,332.5 589,329.5 608,326.5 623,321.25 638,316.25 653,311.75 668,306.25 683,300.02 698,293.75 713,287.02 728,280.02 743,273.75 758,268.75 768,265.02 778,261.25 788,259.5 803,256.25 818,251.25 833,250.02 848,248.02 863,245.5 878,242.2 896.6,236.7 913.2,234.5 924.2,228.4 940.8,221.5 957.4,214.6 974,208.5 990.5,206.3 1009.9,205.8 1034.7,205.2 1067.9,204.1 1078.9,205.5 1101,204.4 1134.2,204.4 1153.5,206.6 1183.9,206.6 1196,205.5" fill="none" stroke="#0000ff" stroke-width="1" />
<polyline points="48,463.25 62,462.02 76,461.02 83,460.02 90,461.25 104,461.25 118,460.02 132,458.02 146,456.25 160,456.25 174,453.75 181,452.02 195,451.75 216,451.75 230,451.02 244,450.02 251,449.25 258,449.25 265,450.02 272,449.25 279,450.25 293,450.25 304,451.5 324,451.25 344,450.02 364,447.02 371.5,448.25 389,446.25 404,445.02 414,443.25 419,444.25 434,443.75 449,442.5 464,439.25 479,437.25 494,435.25 509,433.1 524,430.25 539,427.5 546.5,426.02 554,423.1 569,420.25 584,418.25 594,416.75 601.5,413.25 608,412.25 623,409.5 638,407.02 650.5,403.75 660.5,399.25 673,397.02 685.5,393.25 693,393.02 700.5,390.02 715.5,386.25 728,384.25 738,383.02 748,378.75 763,373.25 778,368.02 790.5,363.25 803,361.75 818,359.5 828,357.02 843,355.02 860.5,351.25 865.5,352.5 880.5,350.75 895.5,347.5 912,343.4 932,342.5 947,339.5 967,333.25 987,328.75 1007,323.25 1019.5,317.5 1029.5,315.75 1042,309.5 1052,307.02 1067,300.5 1079.5,294.5 1097,289.5 1112,286.75 1127,283.25 1137,279.5 1149.5,275.5 1162,270.75 1167.4,267.7 1183.9,263.02 1196,258.8" fill="none" stroke="#0000ff" stroke-width="1" />
<polyline points="48,397.5 58,397.5 59,398.5 100,398.5 101,399.5 135,399.5 136,398.5 170,398.5 171,397.5 191,397.5 192,398.5 240,398.5 241,397.5 261,397.5 262,398.5 268,398.5 269,399.5 275,399.5 276,400.5 283,400.5 284,401.5 289,401.5 290,402.5 305,402.5 306,403.5 331,403.5 332,404.5 354,403.75 374,403.25 394,401.75 419,401.25 436.5,400.02 449,397.5 464,394.5 479,391.25 494,388.02 509,385.5 524,381.75 539,377.5 554,375.02 569,371.25 584,368.25 599,365.02 608,363.4 623,359.5 643,353.75 658,348.02 673,343.02 688,337.5 703,333.02 715.5,328.75 733,323.75 748,316.75 763,311.75 778,306.75 793,302.5 808,299.25 828,295.02 848,292.02 863,291.5 878,288.2 896.6,283.7 913.2,280.4 929.7,276.2 946.3,271.25 965.7,263.5 982.2,260.2 1001.6,256.02 1029.2,252.5 1051.3,248.3 1073.4,243.6 1101,240.02 1128.7,236.7 1156.3,233.4 1196,228.1" fill="none" stroke="#000" stroke-width="1" />
<line x1="118" y1="423.5" x2="138" y2="418.5" stroke="#0000ff" stroke-width="1"/>
<line x1="965" y1="199.5" x2="985" y2="204.5" stroke="#0000ff" stroke-width="1"/>
<path d="M458 527 L465 527 L461.5 523 Z" fill="#000"/>
<rect x="45" y="577" width="6" height="12" fill="#008000"/>
<rect x="52.5" y="577.5" width="5" height="11" fill="none" stroke="#ff0000" stroke-width="1"/>
<rect x="59" y="577" width="6" height="12" fill="#008000"/>
<rect x="66.5" y="570.5" width="5" height="18" fill="none" stroke="#ff0000" stroke-width="1"/>
<rect x="73" y="573" width="6" height="16" fill="#008000"/>
<rect x="80" y="577" width="6" height="12" fill="#008000"/>
<rect x="87" y="577" width="6" height="12" fill="#008000"/>
<rect x="94.5" y="578.5" width="5" height="10" fill="none" stroke="#ff0000" stroke-width="1"/>
<rect x="101" y="579" width="6" height="10" fill="#008000"/>
<rect x="108" y="579" width="6" height="10" fill="#008000"/>
<rect x="115.5" y="579.5" width="5" height="9" fill="none" stroke="#ff0000" stroke-width="1"/>
<rect x="122" y="577" width="6" height="12" fill="#008000"/>
<rect x="129.5" y="579.5" width="5" height="9" fill="none" stroke="#ff0000" stroke-width="1"/>
<rect x="136" y="578" width="6" height="11" fill="#008000"/>
<rect x="143" y="578" width="6" height="11" fill="#008000"/>
<rect x="150.5" y="576.5" width="5" height="12" fill="none" stroke="#ff0000" stroke-width="1"/>
<rect x="157" y="576" width="6" height="13" fill="#008000"/>
<rect x="164" y="577" width="6" height="12" fill="#008000"/>
<rect x="171" y="578" width="6" height="11" fill="#008000"/>
<rect x="178" y="577" width="6" height="12" fill="#008000"/>
<rect x="185.5" y="578.5" width="5" height="10" fill="none" stroke="#ff0000" stroke-width="1"/>
<rect x="192" y="578" width="6" height="11" fill="#008000"/>
<rect x="199.5" y="579.5" width="5" height="9" fill="none" stroke="#ff0000" stroke-width="1"/>
<rect x="206.5" y="576.5" width="5" height="12" fill="none" stroke="#ff0000" stroke-width="1"/>
<rect x="213.5" y="577.5" width="5" height="11" fill="none" stroke="#ff0000" stroke-width="1"/>
<rect x="220.5" y="576.5" width="5" height="12" fill="none" stroke="#ff0000" stroke-width="1"/>
<rect x="227.5" y="573.5" width="5" height="15" fill="none" stroke="#ff0000" stroke-width="1"/>
<rect x="234.5" y="574.5" width="5" height="14" fill="none" stroke="#ff0000" stroke-width="1"/>
<rect x="241" y="575" width="6" height="14" fill="#008000"/>
<rect x="248" y="575" width="6" height="14" fill="#008000"/>
<rect x="255" y="574" width="6" height="15" fill="#008000"/>
<rect x="262.5" y="578.5" width="5" height="10" fill="none" stroke="#ff0000" stroke-width="1"/>
<rect x="269" y="578" width="6" height="11" fill="#008000"/>
<rect x="276.5" y="578.5" width="5" height="10" fill="none" stroke="#ff0000" stroke-width="1"/>
<rect x="283" y="578" width="6" height="11" fill="#008000"/>
<rect x="290.5" y="576.5" width="5" height="12" fill="none" stroke="#ff0000" stroke-width="1"/>
<rect x="297.5" y="573.5" width="5" height="15" fill="none" stroke="#ff0000" stroke-width="1"/>
<rect x="304.5" y="574.5" width="5" height="14" fill="none" stroke="#ff0000" stroke-width="1"/>
<rect x="311" y="573" width="6" height="16" fill="#008000"/>
<rect x="318.5" y="571.5" width="5" height="17" fill="none" stroke="#ff0000" stroke-width="1"/>
<rect x="325.5" y="569.5" width="5" height="19" fill="none" stroke="#ff0000" stroke-width="1"/>
<rect x="332" y="572" width="6" height="17" fill="#008000"/>
<rect x="339.5" y="573.5" width="5" height="15" fill="none" stroke="#ff0000" stroke-width="1"/>
<rect x="346.5" y="574.5" width="5" height="14" fill="none" stroke="#ff0000" stroke-width="1"/>
<rect x="353" y="571" width="6" height="18" fill="#008000"/>
<rect x="360.5" y="573.5" width="5" height="15" fill="none" stroke="#ff0000" stroke-width="1"/>
<rect x="367.5" y="572.5" width="5" height="16" fill="none" stroke="#ff0000" stroke-width="1"/>
<rect x="374.5" y="571.5" width="5" height="17" fill="none" stroke="#ff0000" stroke-width="1"/>
<rect x="381.5" y="569.5" width="5" height="19" fill="none" stroke="#ff0000" stroke-width="1"/>
<rect x="388" y="567" width="6" height="22" fill="#008000"/>
<rect x="395" y="572" width="6" height="17" fill="#008000"/>
<rect x="402.5" y="572.5" width="5" height="16" fill="none" stroke="#ff0000" stroke-width="1"/>
<rect x="409" y="574" width="6" height="15" fill="#008000"/>
<rect x="416.5" y="569.5" width="5" height="19" fill="none" stroke="#ff0000" stroke-width="1"/>
<rect x="423.5" y="567.5" width="5" height="21" fill="none" stroke="#ff0000" stroke-width="1"/>
<rect x="430.5" y="562.5" width="5" height="26" fill="none" stroke="#ff0000" stroke-width="1"/>
<rect x="437.5" y="566.5" width="5" height="22" fill="none" stroke="#ff0000" stroke-width="1"/>
<rect x="444.5" y="551.5" width="5" height="37" fill="none" stroke="#ff0000" stroke-width="1"/>
<rect x="451.5" y="557.5" width="5" height="31" fill="none" stroke="#ff0000" stroke-width="1"/>
<rect x="458.5" y="559.5" width="5" height="29" fill="none" stroke="#ff0000" stroke-width="1"/>
<rect x="465.5" y="563.5" width="5" height="25" fill="none" stroke="#ff0000" stroke-width="1"/>
<rect x="472" y="558" width="6" height="31" fill="#008000"/>
<rect x="479.5" y="561.5" width="5" height="27" fill="none" stroke="#ff0000" stroke-width="1"/>
<rect x="486" y="561" width="6" height="28" fill="#008000"/>
<rect x="493.5" y="561.5" width="5" height="27" fill="none" stroke="#ff0000" stroke-width="1"/>
<rect x="500" y="561" width="6" height="28" fill="#008000"/>
<rect x="507.5" y="567.5" width="5" height="21" fill="none" stroke="#ff0000" stroke-width="1"/>
<rect x="514.5" y="565.5" width="5" height="23" fill="none" stroke="#ff0000" stroke-width="1"/>
<rect x="521" y="564" width="6" height="25" fill="#008000"/>
<rect x="528" y="560" width="6" height="29" fill="#008000"/>
<rect x="535" y="562" width="6" height="27" fill="#008000"/>
<rect x="542.5" y="565.5" width="5" height="23" fill="none" stroke="#ff0000" stroke-width="1"/>
<rect x="549.5" y="563.5" width="5" height="25" fill="none" stroke="#ff0000" stroke-width="1"/>
<rect x="556.5" y="561.5" width="5" height="27" fill="none" stroke="#ff0000" stroke-width="1"/>
<rect x="563" y="562" width="6" height="27" fill="#008000"/>
<rect x="570" y="562" width="6" height="27" fill="#008000"/>
<rect x="577.5" y="563.5" width="5" height="25" fill="none" stroke="#ff0000" stroke-width="1"/>
<rect x="584" y="563" width="6" height="26" fill="#008000"/>
<rect x="591" y="563" width="6" height="26" fill="#008000"/>
<rect x="598.5" y="570.5" width="5" height="18" fill="none" stroke="#ff0000" stroke-width="1"/>
<rect x="605" y="569" width="6" height="20" fill="#008000"/>
<rect x="612.5" y="572.5" width="5" height="16" fill="none" stroke="#ff0000" stroke-width="1"/>
<rect x="619.5" y="568.5" width="5" height="20" fill="none" stroke="#ff0000" stroke-width="1"/>
<rect x="626.5" y="558.5" width="5" height="30" fill="none" stroke="#ff0000" stroke-width="1"/>
<rect x="633.5" y="555.5" width="5" height="33" fill="none" stroke="#ff0000" stroke-width="1"/>
<rect x="640.5" y="557.5" width="5" height="31" fill="none" stroke="#ff0000" stroke-width="1"/>
<rect x="647.5" y="555.5" width="5" height="33" fill="none" stroke="#ff0000" stroke-width="1"/>
<rect x="654" y="557" width="6" height="32" fill="#008000"/>
<rect x="661" y="559" width="6" height="30" fill="#008000"/>
<rect x="668" y="553" width="6" height="36" fill="#008000"/>
<rect x="675.5" y="558.5" width="5" height="30" fill="none" stroke="#ff0000" stroke-width="1"/>
<rect x="682.5" y="555.5" width="5" height="33" fill="none" stroke="#ff0000" stroke-width="1"/>
<rect x="689" y="540" width="6" height="49" fill="#008000"/>
<rect x="696.5" y="555.5" width="5" height="33" fill="none" stroke="#ff0000" stroke-width="1"/>
<rect x="703.5" y="559.5" width="5" height="29" fill="none" stroke="#ff0000" stroke-width="1"/>
<rect x="710.5" y="561.5" width="5" height="27" fill="none" stroke="#ff0000" stroke-width="1"/>
<rect x="717" y="561" width="6" height="28" fill="#008000"/>
<rect x="724.5" y="564.5" width="5" height="24" fill="none" stroke="#ff0000" stroke-width="1"/>
<rect x="731.5" y="553.5" width="5" height="35" fill="none" stroke="#ff0000" stroke-width="1"/>
<rect x="738" y="553" width="6" height="36" fill="#008000"/>
<rect x="745.5" y="561.5" width="5" height="27" fill="none" stroke="#ff0000" stroke-width="1"/>
<rect x="752.5" y="557.5" width="5" height="31" fill="none" stroke="#ff0000" stroke-width="1"/>
<rect x="759.5" y="558.5" width="5" height="30" fill="none" stroke="#ff0000" stroke-width="1"/>
<rect x="766.5" y="556.5" width="5" height="32" fill="none" stroke="#ff0000" stroke-width="1"/>
<rect x="773.5" y="551.5" width="5" height="37" fill="none" stroke="#ff0000" stroke-width="1"/>
<rect x="780" y="553" width="6" height="36" fill="#008000"/>
<rect x="787" y="557" width="6" height="32" fill="#008000"/>
<rect x="794" y="557" width="6" height="32" fill="#008000"/>
<rect x="801.5" y="557.5" width="5" height="31" fill="none" stroke="#ff0000" stroke-width="1"/>
<rect x="808" y="549" width="6" height="40" fill="#008000"/>
<rect x="815" y="555" width="6" height="34" fill="#008000"/>
<rect x="822.5" y="563.5" width="5" height="25" fill="none" stroke="#ff0000" stroke-width="1"/>
<rect x="829" y="562" width="6" height="27" fill="#008000"/>
<rect x="836" y="565" width="6" height="24" fill="#008000"/>
<rect x="843" y="563" width="6" height="26" fill="#008000"/>
<rect x="850" y="568" width="6" height="21" fill="#008000"/>
<rect x="857" y="568" width="6" height="21" fill="#008000"/>
<rect x="864.5" y="560.5" width="5" height="28" fill="none" stroke="#ff0000" stroke-width="1"/>
<rect x="871.5" y="546.5" width="5" height="42" fill="none" stroke="#ff0000" stroke-width="1"/>
<rect x="878.5" y="542.5" width="5" height="46" fill="none" stroke="#ff0000" stroke-width="1"/>
<rect x="885.5" y="537.5" width="5" height="51" fill="none" stroke="#ff0000" stroke-width="1"/>
<rect x="892.5" y="541.5" width="5" height="47" fill="none" stroke="#ff0000" stroke-width="1"/>
<rect x="899.5" y="539.5" width="5" height="49" fill="none" stroke="#ff0000" stroke-width="1"/>
<rect x="906" y="547" width="6" height="42" fill="#008000"/>
<rect x="913.5" y="554.5" width="5" height="34" fill="none" stroke="#ff0000" stroke-width="1"/>
<rect x="920" y="542" width="6" height="47" fill="#008000"/>
<rect x="927.5" y="541.5" width="5" height="47" fill="none" stroke="#ff0000" stroke-width="1"/>
<rect x="934" y="523" width="6" height="66" fill="#008000"/>
<rect x="941.5" y="548.5" width="5" height="40" fill="none" stroke="#ff0000" stroke-width="1"/>
<rect x="948" y="542" width="6" height="47" fill="#008000"/>
<rect x="955.5" y="554.5" width="5" height="34" fill="none" stroke="#ff0000" stroke-width="1"/>
<rect x="962" y="554" width="6" height="35" fill="#008000"/>
<rect x="969" y="557" width="6" height="32" fill="#008000"/>
<rect x="976" y="559" width="6" height="30" fill="#008000"/>
<rect x="983.5" y="562.5" width="5" height="26" fill="none" stroke="#ff0000" stroke-width="1"/>
<rect x="48" y="654" width="1" height="16" fill="#008000"/>
<rect x="55" y="654" width="1" height="15" fill="#008000"/>
<rect x="62" y="654" width="1" height="13" fill="#008000"/>
<rect x="69" y="654" width="1" height="6" fill="#008000"/>
<rect x="76" y="654" width="1" height="2" fill="#008000"/>
<rect x="83" y="653" width="1" height="2" fill="#ff0000"/>
<rect x="104" y="654" width="1" height="3" fill="#008000"/>
<rect x="111" y="654" width="1" height="3" fill="#008000"/>
<rect x="118" y="654" width="1" height="2" fill="#008000"/>
<rect x="125" y="654" width="1" height="1" fill="#008000"/>
<rect x="132" y="653" width="1" height="2" fill="#ff0000"/>
<rect x="139" y="650" width="1" height="5" fill="#ff0000"/>
<rect x="146" y="649" width="1" height="6" fill="#ff0000"/>
<rect x="153" y="647" width="1" height="8" fill="#ff0000"/>
<rect x="160" y="647" width="1" height="8" fill="#ff0000"/>
<rect x="167" y="648" width="1" height="7" fill="#ff0000"/>
<rect x="174" y="649" width="1" height="6" fill="#ff0000"/>
<rect x="181" y="651" width="1" height="4" fill="#ff0000"/>
<rect x="188" y="650" width="1" height="5" fill="#ff0000"/>
<rect x="195" y="652" width="1" height="3" fill="#ff0000"/>
<rect x="202" y="653" width="1" height="2" fill="#ff0000"/>
<rect x="209" y="651" width="1" height="4" fill="#ff0000"/>
<rect x="216" y="649" width="1" height="6" fill="#ff0000"/>
<rect x="223" y="648" width="1" height="7" fill="#ff0000"/>
<rect x="230" y="646" width="1" height="9" fill="#ff0000"/>
<rect x="237" y="642" width="1" height="13" fill="#ff0000"/>
<rect x="244" y="644" width="1" height="11" fill="#ff0000"/>
<rect x="251" y="648" width="1" height="7" fill="#ff0000"/>
<rect x="265" y="654" width="1" height="3" fill="#008000"/>
<rect x="272" y="654" width="1" height="4" fill="#008000"/>
<rect x="279" y="654" width="1" height="5" fill="#008000"/>
<rect x="286" y="654" width="1" height="7" fill="#008000"/>
<rect x="293" y="654" width="1" height="4" fill="#008000"/>
<rect x="300" y="654" width="1" height="3" fill="#008000"/>
<rect x="307" y="654" width="1" height="2" fill="#008000"/>
<rect x="321" y="653" width="1" height="2" fill="#ff0000"/>
<rect x="328" y="651" width="1" height="4" fill="#ff0000"/>
<rect x="335" y="651" width="1" height="4" fill="#ff0000"/>
<rect x="342" y="651" width="1" height="4" fill="#ff0000"/>
<rect x="349" y="650" width="1" height="5" fill="#ff0000"/>
<rect x="356" y="653" width="1" height="2" fill="#ff0000"/>
<rect x="363" y="654" width="1" height="1" fill="#008000"/>
<rect x="384" y="652" width="1" height="3" fill="#ff0000"/>
<rect x="391" y="652" width="1" height="3" fill="#ff0000"/>
<rect x="398" y="653" width="1" height="2" fill="#ff0000"/>
<rect x="405" y="653" width="1" height="2" fill="#ff0000"/>
<rect x="419" y="653" width="1" height="2" fill="#ff0000"/>
<rect x="426" y="651" width="1" height="4" fill="#ff0000"/>
<rect x="433" y="647" width="1" height="8" fill="#ff0000"/>
<rect x="440" y="642" width="1" height="13" fill="#ff0000"/>
<rect x="447" y="632" width="1" height="23" fill="#ff0000"/>
<rect x="454" y="628" width="1" height="27" fill="#ff0000"/>
<rect x="461" y="625" width="1" height="30" fill="#ff0000"/>
<rect x="468" y="623" width="1" height="32" fill="#ff0000"/>
<rect x="475" y="627" width="1" height="28" fill="#ff0000"/>
<rect x="482" y="625" width="1" height="30" fill="#ff0000"/>
<rect x="489" y="627" width="1" height="28" fill="#ff0000"/>
<rect x="496" y="631" width="1" height="24" fill="#ff0000"/>
<rect x="503" y="639" width="1" height="16" fill="#ff0000"/>
<rect x="510" y="645" width="1" height="10" fill="#ff0000"/>
<rect x="517" y="645" width="1" height="10" fill="#ff0000"/>
<rect x="524" y="647" width="1" height="8" fill="#ff0000"/>
<rect x="531" y="650" width="1" height="5" fill="#ff0000"/>
<rect x="545" y="654" width="1" height="1" fill="#008000"/>
<rect x="566" y="654" width="1" height="1" fill="#008000"/>
<rect x="573" y="654" width="1" height="4" fill="#008000"/>
<rect x="580" y="654" width="1" height="5" fill="#008000"/>
<rect x="587" y="654" width="1" height="7" fill="#008000"/>
<rect x="594" y="654" width="1" height="13" fill="#008000"/>
<rect x="601" y="654" width="1" height="16" fill="#008000"/>
<rect x="608" y="654" width="1" height="19" fill="#008000"/>
<rect x="615" y="654" width="1" height="18" fill="#008000"/>
<rect x="622" y="654" width="1" height="15" fill="#008000"/>
<rect x="629" y="654" width="1" height="8" fill="#008000"/>
<rect x="643" y="649" width="1" height="6" fill="#ff0000"/>
<rect x="650" y="643" width="1" height="12" fill="#ff0000"/>
<rect x="657" y="640" width="1" height="15" fill="#ff0000"/>
<rect x="664" y="641" width="1" height="14" fill="#ff0000"/>
<rect x="671" y="644" width="1" height="11" fill="#ff0000"/>
<rect x="678" y="644" width="1" height="11" fill="#ff0000"/>
<rect x="685" y="645" width="1" height="10" fill="#ff0000"/>
<rect x="692" y="652" width="1" height="3" fill="#ff0000"/>
<rect x="706" y="654" width="1" height="3" fill="#008000"/>
<rect x="713" y="654" width="1" height="2" fill="#008000"/>
<rect x="720" y="654" width="1" height="9" fill="#008000"/>
<rect x="727" y="654" width="1" height="10" fill="#008000"/>
<rect x="734" y="654" width="1" height="7" fill="#008000"/>
<rect x="741" y="654" width="1" height="4" fill="#008000"/>
<rect x="748" y="654" width="1" height="3" fill="#008000"/>
<rect x="755" y="654" width="1" height="1" fill="#008000"/>
<rect x="769" y="652" width="1" height="3" fill="#ff0000"/>
<rect x="776" y="650" width="1" height="5" fill="#ff0000"/>
<rect x="783" y="652" width="1" height="3" fill="#ff0000"/>
<rect x="797" y="654" width="1" height="2" fill="#008000"/>
<rect x="804" y="654" width="1" height="3" fill="#008000"/>
<rect x="811" y="654" width="1" height="7" fill="#008000"/>
<rect x="818" y="654" width="1" height="12" fill="#008000"/>
<rect x="825" y="654" width="1" height="13" fill="#008000"/>
<rect x="832" y="654" width="1" height="15" fill="#008000"/>
<rect x="839" y="654" width="1" height="18" fill="#008000"/>
<rect x="846" y="654" width="1" height="23" fill="#008000"/>
<rect x="853" y="654" width="1" height="26" fill="#008000"/>
<rect x="860" y="654" width="1" height="28" fill="#008000"/>
<rect x="867" y="654" width="1" height="22" fill="#008000"/>
<rect x="874" y="654" width="1" height="12" fill="#008000"/>
<rect x="881" y="654" width="1" height="3" fill="#008000"/>
<rect x="888" y="648" width="1" height="7" fill="#ff0000"/>
<rect x="895" y="641" width="1" height="14" fill="#ff0000"/>
<rect x="902" y="638" width="1" height="17" fill="#ff0000"/>
<rect x="909" y="639" width="1" height="16" fill="#ff0000"/>
<rect x="916" y="639" width="1" height="16" fill="#ff0000"/>
<rect x="923" y="642" width="1" height="13" fill="#ff0000"/>
<rect x="930" y="637" width="1" height="18" fill="#ff0000"/>
<rect x="937" y="636" width="1" height="19" fill="#ff0000"/>
<rect x="944" y="633" width="1" height="22" fill="#ff0000"/>
<rect x="951" y="635" width="1" height="20" fill="#ff0000"/>
<rect x="958" y="637" width="1" height="18" fill="#ff0000"/>
<rect x="965" y="643" width="1" height="12" fill="#ff0000"/>
<rect x="972" y="649" width="1" height="6" fill="#ff0000"/>
<rect x="986" y="654" width="1" height="4" fill="#008000"/>
<rect x="993" y="654" width="1" height="7" fill="#008000"/>
<rect x="1000" y="654" width="1" height="9" fill="#008000"/>
<rect x="1007" y="654" width="1" height="11" fill="#008000"/>
<rect x="1014" y="654" width="1" height="12" fill="#008000"/>
<rect x="1021" y="654" width="1" height="12" fill="#008000"/>
<rect x="1028" y="654" width="1" height="12" fill="#008000"/>
<rect x="1035" y="654" width="1" height="12" fill="#008000"/>
<rect x="1042" y="654" width="1" height="13" fill="#008000"/>
<rect x="1049" y="654" width="1" height="13" fill="#008000"/>
<rect x="1056" y="654" width="1" height="12" fill="#008000"/>
<rect x="1063" y="654" width="1" height="11" fill="#008000"/>
<rect x="1070" y="654" width="1" height="11" fill="#008000"/>
<rect x="1077" y="654" width="1" height="10" fill="#008000"/>
<rect x="1084" y="654" width="1" height="10" fill="#008000"/>
<rect x="1091" y="654" width="1" height="9" fill="#008000"/>
<rect x="1098" y="654" width="1" height="9" fill="#008000"/>
<rect x="1105" y="654" width="1" height="8" fill="#008000"/>
<rect x="1112" y="654" width="1" height="8" fill="#008000"/>
<rect x="1119" y="654" width="1" height="7" fill="#008000"/>
<rect x="1126" y="654" width="1" height="7" fill="#008000"/>
<rect x="1133" y="654" width="1" height="6" fill="#008000"/>
<rect x="1140" y="654" width="1" height="6" fill="#008000"/>
<rect x="1147" y="654" width="1" height="5" fill="#008000"/>
<rect x="1154" y="654" width="1" height="5" fill="#008000"/>
<rect x="1161" y="654" width="1" height="5" fill="#008000"/>
<rect x="1168" y="654" width="1" height="4" fill="#008000"/>
<rect x="1175" y="654" width="1" height="4" fill="#008000"/>
<rect x="1182" y="654" width="1" height="4" fill="#008000"/>
<rect x="1189" y="654" width="1" height="4" fill="#008000"/>
<rect x="1196" y="654" width="1" height="4" fill="#008000"/>
<polyline points="48,669.25 55,670.02 62.5,671.25 72.5,666.75 82.5,664.25 95,664.25 107.5,666.75 120,667.25 132.5,665.02 145,661.02 157.5,658.5 175,657.5 190,657.25 205,656.75 217.5,654.25 230,650.5 237.5,647.25 245,646.25 252.5,648.02 262.5,651.02 275,653.75 287.5,656.02 304,655.8 319,653.02 334,650.5 349,649.75 359,651.25 371.5,651.75 384,650.02 399,649.75 411.5,650.02 421.5,648.02 429,646.75 436.5,643.02 442.75,638.02 449,630.5 456.5,624.25 464,619.25 471.5,615.5 479,613.02 489,607.25 496.5,606.25 504,608.02 511.5,609.75 521.5,609.02 531.5,609.25 537.75,611.75 554,612.25 564,613.02 574,614.75 586.5,618.02 599,624.25 608,629.75 615.5,631.25 623,631.25 630.5,628.02 640.5,621.75 650.5,616.25 658,613.02 670.5,611.75 680.5,610.5 685.5,610.02 693,613.5 703,616.25 713,617.25 720.5,620.5 728,623.02 738,621.75 750.5,621.02 760.5,619.75 770.5,616.75 780.5,616.25 790.5,618.02 800.5,620.5 810.5,623.02 820.5,627.5 828,629.75 838,635.5 848,643.02 858,650.02 863,651.25 870.5,650.02 880.5,645.5 888,638.02 895.5,631.75 903,628.02 912,625.5 922,624.25 929.5,620.02 937,617.5 944.5,613.02 952,611.02 959.5,610.02 967,611.25 977,615.02 984.5,618.5 997,621.75 1009.5,627.25 1022,629.25 1037,633.5 1052,636.75 1067,638.75 1087,641.75 1112,645.5 1137,648.02 1162,649.75 1182,650.5 1196,650.5" fill="none" stroke="#000" stroke-width="1" />
<polyline points="48,660.5 57.5,663.02 70,665.5 85,664.75 100,664.25 112.5,665.5 130,665.5 145,663.75 162.5,661.75 180,659.75 200,658.02 217.5,656.75 230,654.75 240,652.5 250,651.02 260,650.5 270,651.75 282.5,653.02 304,655.2 324,653.02 344,651.25 364,651.75 384,651.02 404,650.5 419,650.02 434,648.02 444,644.25 454,639.25 466.5,633.02 479,626.02 489,621.02 499,617.5 509,615.5 521.5,613.75 534,612.5 554,612.25 569,613.02 584,614.25 594,616.25 608,620.5 618,623.02 628,625.5 638,625.5 648,623.02 658,620.5 670.5,618.02 683,615.5 693,615.02 708,615.5 720.5,617.5 733,619.25 748,620.5 763,620.02 778,618.5 788,618.02 803,618.75 815.5,620.5 828,623.75 840.5,628.02 850.5,632.25 860.5,636.75 873,641.02 883,641.25 895.5,638.5 912,633.6 924.5,630.5 937,626.75 949.5,622.25 962,618.5 972,616.02 979.5,616.25 992,618.02 1012,621.75 1037,627.25 1062,632.25 1087,637.25 1112,641.25 1137,644.75 1162,647.25 1182,648.75 1196,649.75" fill="none" stroke="#0000ff" stroke-width="1" />
</svg>
<span class="t date" style="left:45px;top:132px;">05-07</span>
<span class="t date" style="left:104.5px;top:132px;letter-spacing:-0.34px">05-21</span>
<span class="t date" style="left:174.5px;top:132px;">06-05</span>
<span class="t date" style="left:244.5px;top:132px;letter-spacing:-0.34px">06-19</span>
<span class="t date" style="left:314.5px;top:132px;">07-03</span>
<span class="t date" style="left:384.5px;top:132px;letter-spacing:-0.34px">07-17</span>
<span class="t date" style="left:454.5px;top:132px;letter-spacing:-0.34px">07-31</span>
<span class="t date" style="left:524.5px;top:132px;letter-spacing:-0.34px">08-14</span>
<span class="t date" style="left:594.5px;top:132px;">08-28</span>
<span class="t date" style="left:664.5px;top:132px;letter-spacing:-0.34px">09-12</span>
<span class="t date" style="left:734.5px;top:132px;">09-26</span>
<span class="t date" style="left:804.5px;top:132px;letter-spacing:-0.68px">10-17</span>
<span class="t date" style="left:874.5px;top:132px;letter-spacing:-0.68px">10-31</span>
<span class="t date" style="left:944.5px;top:132px;letter-spacing:-1.02px">11-14</span>
<span class="t date" style="left:1014.5px;top:132px;letter-spacing:-0.68px">11-28</span>
<span class="t date" style="left:1084.5px;top:132px;letter-spacing:-0.68px">12-12</span>
<span class="t date" style="left:1154.5px;top:132px;letter-spacing:-0.34px">12-26</span>
<span class="t ar red" style="left:116px;top:145px;">Tp=2245.6379</span>
<span class="t ar blue" style="left:194px;top:145px;">Up=2152.6338</span>
<span class="t ar" style="left:273px;top:145px;">Md=2046.9914</span>
<span class="t ar blue" style="left:352px;top:145px;">Dn=1905.3923</span>
<span class="t ar red" style="left:431px;top:145px;">Bt=1776.8606</span>
<span class="t blue" style="left:1111px;top:143.5px;font-family:'Liberation Serif',serif;font-size:13px;letter-spacing:-.45px">1A0001</span>
<span class="t num blue" style="left:138.5px;top:410px;">1991.0601</span>
<span class="t num blue" style="left:985.5px;top:204px;">2508.7700</span>
<span class="t mono" style="left:0px;top:510.0px;width:42px;text-align:right">60<b class="dot">.</b>4582</span>
<span class="t mono" style="left:0px;top:534.0px;width:42px;text-align:right">9566603</span>
<span class="t mono" style="left:0px;top:550.0px;width:42px;text-align:right">9711068</span>
<span class="t mono" style="left:0px;top:566.0px;width:42px;text-align:right">9855534</span>
<span class="t mono" style="left:0px;top:603.0px;width:42px;text-align:right">40<b class="dot">.</b>17</span>
<span class="t mono" style="left:0px;top:621.0px;width:42px;text-align:right">23<b class="dot">.</b>80</span>
<span class="t mono" style="left:0px;top:639.0px;width:42px;text-align:right">7<b class="dot">.</b>43</span>
<span class="t mono" style="left:0px;top:657.0px;width:42px;text-align:right">-8<b class="dot">.</b>94</span>
<span class="t ar blue" style="left:0px;top:592px;">D</span>
<span class="t ar" style="left:50px;top:592px;">DIF=-12.02</span>
<span class="t ar blue" style="left:121px;top:592px;">DEA=-10.18</span>
<span class="t ar" style="left:192px;top:592px;color:#ff00ff">MACD=-3.69</span>
<svg id="labels" width="1216" height="683" viewBox="0 0 1216 683"><text x="-3" y="15.66" font-size="12" fill="#000" font-family="Liberation Sans, sans-serif" textLength="186.7" lengthAdjust="spacing" stroke="#000" stroke-width="0.22">赢家江恩专业版[赢家内部服务平台]</text><text x="200.4" y="15.66" font-size="12" fill="#000" font-family="Liberation Sans, sans-serif" textLength="48" lengthAdjust="spacing" stroke="#000" stroke-width="0.22">上证指数</text><text x="343.3" y="15.66" font-size="12" fill="#000" font-family="Liberation Sans, sans-serif" textLength="12" lengthAdjust="spacing" stroke="#000" stroke-width="0.22">日</text><text x="365.3" y="15.66" font-size="12" fill="#000" font-family="Liberation Sans, sans-serif" textLength="12" lengthAdjust="spacing" stroke="#000" stroke-width="0.22">线</text><text x="0" y="39.16" font-size="12" fill="#000" font-family="Liberation Sans, sans-serif" textLength="24" lengthAdjust="spacing" stroke="#000" stroke-width="0.22">文件</text><text x="35" y="39.16" font-size="12" fill="#000" font-family="Liberation Sans, sans-serif" textLength="24" lengthAdjust="spacing" stroke="#000" stroke-width="0.22">浏览</text><text x="71" y="39.16" font-size="12" fill="#000" font-family="Liberation Sans, sans-serif" textLength="24" lengthAdjust="spacing" stroke="#000" stroke-width="0.22">资讯</text><text x="107" y="39.16" font-size="12" fill="#000" font-family="Liberation Sans, sans-serif" textLength="24" lengthAdjust="spacing" stroke="#000" stroke-width="0.22">江恩</text><text x="143" y="39.16" font-size="12" fill="#000" font-family="Liberation Sans, sans-serif" textLength="48" lengthAdjust="spacing" stroke="#000" stroke-width="0.22">公式选股</text><text x="203" y="39.16" font-size="12" fill="#000" font-family="Liberation Sans, sans-serif" textLength="24" lengthAdjust="spacing" stroke="#000" stroke-width="0.22">设置</text><text x="239" y="39.16" font-size="12" fill="#000" font-family="Liberation Sans, sans-serif" textLength="24" lengthAdjust="spacing" stroke="#000" stroke-width="0.22">工具</text><text x="275" y="39.16" font-size="12" fill="#000" font-family="Liberation Sans, sans-serif" textLength="24" lengthAdjust="spacing" stroke="#000" stroke-width="0.22">窗口</text><text x="311" y="39.16" font-size="12" fill="#000" font-family="Liberation Sans, sans-serif" textLength="48" lengthAdjust="spacing" stroke="#000" stroke-width="0.22">交易委托</text><text x="371" y="39.16" font-size="12" fill="#000" font-family="Liberation Sans, sans-serif" textLength="24" lengthAdjust="spacing" stroke="#000" stroke-width="0.22">帮助</text><text x="4" y="66.16" font-size="12" fill="#000" font-family="Liberation Sans, sans-serif" textLength="24" lengthAdjust="spacing" stroke="#000" stroke-width="0.22">行情</text><text x="57" y="66.16" font-size="12" fill="#000" font-family="Liberation Sans, sans-serif" textLength="24" lengthAdjust="spacing" stroke="#000" stroke-width="0.22">板块</text><text x="110" y="66.16" font-size="12" fill="#000" font-family="Liberation Sans, sans-serif" textLength="20" lengthAdjust="spacing" stroke="#000" stroke-width="0.22">K线</text><text x="159" y="66.16" font-size="12" fill="#000" font-family="Liberation Sans, sans-serif" textLength="44" lengthAdjust="spacing" stroke="#000" stroke-width="0.22">P四方形</text><text x="232" y="66.16" font-size="12" fill="#000" font-family="Liberation Sans, sans-serif" textLength="50.7" lengthAdjust="spacing" stroke="#000" stroke-width="0.22">9P四方形</text><text x="311" y="66.16" font-size="12" fill="#000" font-family="Liberation Sans, sans-serif" textLength="44" lengthAdjust="spacing" stroke="#000" stroke-width="0.22">P数字表</text><text x="383" y="66.16" font-size="12" fill="#000" font-family="Liberation Sans, sans-serif" textLength="43.3" lengthAdjust="spacing" stroke="#000" stroke-width="0.22">T四方形</text><text x="455" y="66.16" font-size="12" fill="#000" font-family="Liberation Sans, sans-serif" textLength="50" lengthAdjust="spacing" stroke="#000" stroke-width="0.22">9T四方形</text><text x="534" y="66.16" font-size="12" fill="#000" font-family="Liberation Sans, sans-serif" textLength="43.3" lengthAdjust="spacing" stroke="#000" stroke-width="0.22">T数字表</text><text x="605" y="66.16" font-size="12" fill="#000" font-family="Liberation Sans, sans-serif" textLength="36" lengthAdjust="spacing" stroke="#000" stroke-width="0.22">江恩轮</text><text x="670" y="66.16" font-size="12" fill="#000" font-family="Liberation Sans, sans-serif" textLength="36" lengthAdjust="spacing" stroke="#000" stroke-width="0.22">赢家轮</text><text x="735" y="66.16" font-size="12" fill="#000" font-family="Liberation Sans, sans-serif" textLength="36" lengthAdjust="spacing" stroke="#000" stroke-width="0.22">六角形</text><text x="800" y="66.16" font-size="12" fill="#000" font-family="Liberation Sans, sans-serif" textLength="48" lengthAdjust="spacing" stroke="#000" stroke-width="0.22">赢家服务</text><text x="-3" y="147.72" font-size="12.5" fill="#0000ff" font-family="Liberation Serif, Liberation Sans, serif" textLength="12.5" lengthAdjust="spacing" >线</text><text x="46" y="155.22" font-size="12.5" fill="#000" font-family="Liberation Serif, Liberation Sans, serif" textLength="50" lengthAdjust="spacing" >极反通道</text><text x="1159.5" y="155.22" font-size="12.5" fill="#0000ff" font-family="Liberation Serif, Liberation Sans, serif" textLength="50" lengthAdjust="spacing" >上证指数</text></svg>
</body></html>
